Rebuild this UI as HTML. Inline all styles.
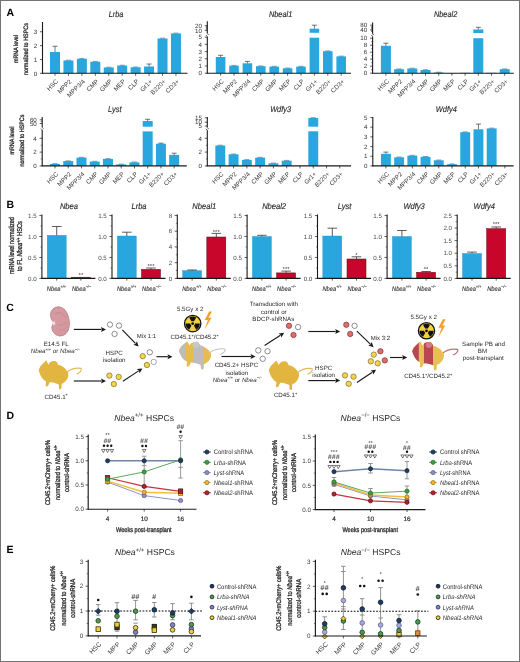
<!DOCTYPE html>
<html><head><meta charset="utf-8"><style>
html,body{margin:0;padding:0;background:#fff;}
body{width:520px;height:662px;overflow:hidden;}
svg{display:block;filter:blur(0.3px);}
text{font-family:"Liberation Sans", sans-serif;text-rendering:geometricPrecision;}
</style></head><body>
<svg width="520" height="662" viewBox="0 0 520 662">
<rect x="0" y="0" width="520" height="662" fill="#fff"/>
<g fill="#2a2a2a">
<text x="6.50" y="15.80" font-size="10.5" font-weight="bold" fill="#000">A</text>
<rect x="50.00" y="52.00" width="10.00" height="21.30" fill="#29a6de"/>
<line x1="55.00" y1="46.25" x2="55.00" y2="52.00" stroke="#3a4a55" stroke-width="0.75" />
<line x1="52.50" y1="46.25" x2="57.50" y2="46.25" stroke="#3a4a55" stroke-width="0.75" />
<rect x="63.44" y="60.50" width="10.00" height="12.80" fill="#29a6de"/>
<line x1="65.94" y1="60.20" x2="70.94" y2="60.20" stroke="#2a6a8a" stroke-width="0.6" />
<rect x="76.88" y="58.75" width="10.00" height="14.55" fill="#29a6de"/>
<line x1="79.38" y1="58.45" x2="84.38" y2="58.45" stroke="#2a6a8a" stroke-width="0.6" />
<rect x="90.32" y="61.75" width="10.00" height="11.55" fill="#29a6de"/>
<line x1="92.82" y1="61.45" x2="97.82" y2="61.45" stroke="#2a6a8a" stroke-width="0.6" />
<rect x="103.76" y="67.50" width="10.00" height="5.80" fill="#29a6de"/>
<line x1="106.26" y1="67.20" x2="111.26" y2="67.20" stroke="#2a6a8a" stroke-width="0.6" />
<rect x="117.20" y="65.50" width="10.00" height="7.80" fill="#29a6de"/>
<line x1="119.70" y1="65.20" x2="124.70" y2="65.20" stroke="#2a6a8a" stroke-width="0.6" />
<rect x="130.64" y="67.25" width="10.00" height="6.05" fill="#29a6de"/>
<line x1="133.14" y1="66.95" x2="138.14" y2="66.95" stroke="#2a6a8a" stroke-width="0.6" />
<rect x="144.08" y="66.50" width="10.00" height="6.80" fill="#29a6de"/>
<line x1="149.08" y1="64.00" x2="149.08" y2="66.50" stroke="#3a4a55" stroke-width="0.75" />
<line x1="146.58" y1="64.00" x2="151.58" y2="64.00" stroke="#3a4a55" stroke-width="0.75" />
<rect x="157.52" y="38.50" width="10.00" height="34.80" fill="#29a6de"/>
<line x1="160.02" y1="38.20" x2="165.02" y2="38.20" stroke="#2a6a8a" stroke-width="0.6" />
<rect x="170.96" y="33.40" width="10.00" height="39.90" fill="#29a6de"/>
<line x1="173.46" y1="33.10" x2="178.46" y2="33.10" stroke="#2a6a8a" stroke-width="0.6" />
<line x1="42.50" y1="22.00" x2="42.50" y2="73.70" stroke="#1a1a1a" stroke-width="1.1" />
<line x1="41.95" y1="73.30" x2="187.50" y2="73.30" stroke="#1a1a1a" stroke-width="1.1" />
<line x1="40.00" y1="73.30" x2="42.50" y2="73.30" stroke="#1a1a1a" stroke-width="0.7" />
<text x="37.10" y="75.50" font-size="6.2" text-anchor="end" fill="#333">0</text>
<line x1="40.00" y1="59.45" x2="42.50" y2="59.45" stroke="#1a1a1a" stroke-width="0.7" />
<text x="37.10" y="61.65" font-size="6.2" text-anchor="end" fill="#333">1</text>
<line x1="40.00" y1="45.60" x2="42.50" y2="45.60" stroke="#1a1a1a" stroke-width="0.7" />
<text x="37.10" y="47.80" font-size="6.2" text-anchor="end" fill="#333">2</text>
<line x1="40.00" y1="31.75" x2="42.50" y2="31.75" stroke="#1a1a1a" stroke-width="0.7" />
<text x="37.10" y="33.95" font-size="6.2" text-anchor="end" fill="#333">3</text>
<line x1="55.00" y1="73.30" x2="55.00" y2="75.80" stroke="#1a1a1a" stroke-width="0.7" />
<text x="58.60" y="81.90" font-size="6.3" text-anchor="end" fill="#383838" transform="rotate(-45 58.60 81.90)">HSC</text>
<line x1="68.44" y1="73.30" x2="68.44" y2="75.80" stroke="#1a1a1a" stroke-width="0.7" />
<text x="72.04" y="81.90" font-size="6.3" text-anchor="end" fill="#383838" transform="rotate(-45 72.04 81.90)">MPP2</text>
<line x1="81.88" y1="73.30" x2="81.88" y2="75.80" stroke="#1a1a1a" stroke-width="0.7" />
<text x="85.48" y="81.90" font-size="6.3" text-anchor="end" fill="#383838" transform="rotate(-45 85.48 81.90)">MPP3/4</text>
<line x1="95.32" y1="73.30" x2="95.32" y2="75.80" stroke="#1a1a1a" stroke-width="0.7" />
<text x="98.92" y="81.90" font-size="6.3" text-anchor="end" fill="#383838" transform="rotate(-45 98.92 81.90)">CMP</text>
<line x1="108.76" y1="73.30" x2="108.76" y2="75.80" stroke="#1a1a1a" stroke-width="0.7" />
<text x="112.36" y="81.90" font-size="6.3" text-anchor="end" fill="#383838" transform="rotate(-45 112.36 81.90)">GMP</text>
<line x1="122.20" y1="73.30" x2="122.20" y2="75.80" stroke="#1a1a1a" stroke-width="0.7" />
<text x="125.80" y="81.90" font-size="6.3" text-anchor="end" fill="#383838" transform="rotate(-45 125.80 81.90)">MEP</text>
<line x1="135.64" y1="73.30" x2="135.64" y2="75.80" stroke="#1a1a1a" stroke-width="0.7" />
<text x="139.24" y="81.90" font-size="6.3" text-anchor="end" fill="#383838" transform="rotate(-45 139.24 81.90)">CLP</text>
<line x1="149.08" y1="73.30" x2="149.08" y2="75.80" stroke="#1a1a1a" stroke-width="0.7" />
<text x="152.68" y="81.90" font-size="6.3" text-anchor="end" fill="#383838" transform="rotate(-45 152.68 81.90)">Gr1+</text>
<line x1="162.52" y1="73.30" x2="162.52" y2="75.80" stroke="#1a1a1a" stroke-width="0.7" />
<text x="166.12" y="81.90" font-size="6.3" text-anchor="end" fill="#383838" transform="rotate(-45 166.12 81.90)">B220+</text>
<line x1="175.96" y1="73.30" x2="175.96" y2="75.80" stroke="#1a1a1a" stroke-width="0.7" />
<text x="179.56" y="81.90" font-size="6.3" text-anchor="end" fill="#383838" transform="rotate(-45 179.56 81.90)">CD3+</text>
<text x="0" y="0" font-size="8.4" transform="translate(116.00 16.60) scale(0.88 1)" text-anchor="middle" font-style="italic" stroke="#2a2a2a" stroke-width="0.15">Lrba</text>
<text x="17.90" y="49.00" font-size="6.4" text-anchor="middle" transform="rotate(-90 17.90 49.00)" textLength="28" lengthAdjust="spacingAndGlyphs" stroke="#2a2a2a" stroke-width="0.32">mRNA level</text>
<text x="28.30" y="49.00" font-size="6.4" text-anchor="middle" transform="rotate(-90 28.30 49.00)" textLength="52" lengthAdjust="spacingAndGlyphs" stroke="#2a2a2a" stroke-width="0.32">normalized to HSPCs</text>
<rect x="215.80" y="57.00" width="9.60" height="16.20" fill="#29a6de"/>
<line x1="220.60" y1="55.30" x2="220.60" y2="57.00" stroke="#3a4a55" stroke-width="0.75" />
<line x1="218.10" y1="55.30" x2="223.10" y2="55.30" stroke="#3a4a55" stroke-width="0.75" />
<rect x="229.20" y="65.70" width="9.60" height="7.50" fill="#29a6de"/>
<line x1="231.50" y1="65.40" x2="236.50" y2="65.40" stroke="#2a6a8a" stroke-width="0.6" />
<rect x="242.60" y="63.30" width="9.60" height="9.90" fill="#29a6de"/>
<line x1="247.40" y1="61.40" x2="247.40" y2="63.30" stroke="#3a4a55" stroke-width="0.75" />
<line x1="244.90" y1="61.40" x2="249.90" y2="61.40" stroke="#3a4a55" stroke-width="0.75" />
<rect x="256.00" y="66.20" width="9.60" height="7.00" fill="#29a6de"/>
<line x1="258.30" y1="65.90" x2="263.30" y2="65.90" stroke="#2a6a8a" stroke-width="0.6" />
<rect x="269.40" y="66.60" width="9.60" height="6.60" fill="#29a6de"/>
<line x1="271.70" y1="66.30" x2="276.70" y2="66.30" stroke="#2a6a8a" stroke-width="0.6" />
<rect x="282.80" y="68.30" width="9.60" height="4.90" fill="#29a6de"/>
<line x1="285.10" y1="68.00" x2="290.10" y2="68.00" stroke="#2a6a8a" stroke-width="0.6" />
<rect x="296.20" y="66.60" width="9.60" height="6.60" fill="#29a6de"/>
<line x1="298.50" y1="66.30" x2="303.50" y2="66.30" stroke="#2a6a8a" stroke-width="0.6" />
<rect x="309.60" y="37.70" width="9.60" height="35.50" fill="#29a6de"/>
<rect x="309.60" y="28.70" width="9.60" height="4.10" fill="#29a6de"/>
<line x1="314.40" y1="25.20" x2="314.40" y2="28.70" stroke="#3a4a55" stroke-width="0.75" />
<line x1="311.90" y1="25.20" x2="316.90" y2="25.20" stroke="#3a4a55" stroke-width="0.75" />
<rect x="323.00" y="51.20" width="9.60" height="22.00" fill="#29a6de"/>
<line x1="325.30" y1="50.90" x2="330.30" y2="50.90" stroke="#2a6a8a" stroke-width="0.6" />
<rect x="336.40" y="56.40" width="9.60" height="16.80" fill="#29a6de"/>
<line x1="338.70" y1="56.10" x2="343.70" y2="56.10" stroke="#2a6a8a" stroke-width="0.6" />
<line x1="207.30" y1="21.20" x2="207.30" y2="33.60" stroke="#1a1a1a" stroke-width="1.1" />
<line x1="207.30" y1="33.60" x2="208.50" y2="34.90" stroke="#1a1a1a" stroke-width="0.8" />
<line x1="206.10" y1="35.10" x2="207.30" y2="36.40" stroke="#1a1a1a" stroke-width="0.8" />
<line x1="207.30" y1="36.40" x2="207.30" y2="73.60" stroke="#1a1a1a" stroke-width="1.1" />
<line x1="206.75" y1="73.20" x2="351.00" y2="73.20" stroke="#1a1a1a" stroke-width="1.1" />
<line x1="204.80" y1="73.20" x2="207.30" y2="73.20" stroke="#1a1a1a" stroke-width="0.7" />
<text x="201.90" y="75.40" font-size="6.2" text-anchor="end" fill="#333">0</text>
<line x1="204.80" y1="66.00" x2="207.30" y2="66.00" stroke="#1a1a1a" stroke-width="0.7" />
<text x="201.90" y="68.20" font-size="6.2" text-anchor="end" fill="#333">1</text>
<line x1="204.80" y1="58.80" x2="207.30" y2="58.80" stroke="#1a1a1a" stroke-width="0.7" />
<text x="201.90" y="61.00" font-size="6.2" text-anchor="end" fill="#333">2</text>
<line x1="204.80" y1="51.60" x2="207.30" y2="51.60" stroke="#1a1a1a" stroke-width="0.7" />
<text x="201.90" y="53.80" font-size="6.2" text-anchor="end" fill="#333">3</text>
<line x1="204.80" y1="44.40" x2="207.30" y2="44.40" stroke="#1a1a1a" stroke-width="0.7" />
<text x="201.90" y="46.60" font-size="6.2" text-anchor="end" fill="#333">4</text>
<line x1="204.80" y1="37.20" x2="207.30" y2="37.20" stroke="#1a1a1a" stroke-width="0.7" />
<text x="201.90" y="39.40" font-size="6.2" text-anchor="end" fill="#333">5</text>
<line x1="204.80" y1="30.40" x2="207.30" y2="30.40" stroke="#1a1a1a" stroke-width="0.7" />
<text x="201.90" y="32.60" font-size="6.2" text-anchor="end" fill="#333">10</text>
<line x1="204.80" y1="25.60" x2="207.30" y2="25.60" stroke="#1a1a1a" stroke-width="0.7" />
<text x="201.90" y="27.80" font-size="6.2" text-anchor="end" fill="#333">20</text>
<line x1="205.80" y1="29.40" x2="207.30" y2="29.40" stroke="#1a1a1a" stroke-width="0.5" />
<line x1="205.80" y1="28.40" x2="207.30" y2="28.40" stroke="#1a1a1a" stroke-width="0.5" />
<line x1="205.80" y1="27.40" x2="207.30" y2="27.40" stroke="#1a1a1a" stroke-width="0.5" />
<line x1="205.80" y1="26.50" x2="207.30" y2="26.50" stroke="#1a1a1a" stroke-width="0.5" />
<line x1="220.60" y1="73.20" x2="220.60" y2="75.70" stroke="#1a1a1a" stroke-width="0.7" />
<text x="224.20" y="81.80" font-size="6.3" text-anchor="end" fill="#383838" transform="rotate(-45 224.20 81.80)">HSC</text>
<line x1="234.00" y1="73.20" x2="234.00" y2="75.70" stroke="#1a1a1a" stroke-width="0.7" />
<text x="237.60" y="81.80" font-size="6.3" text-anchor="end" fill="#383838" transform="rotate(-45 237.60 81.80)">MPP2</text>
<line x1="247.40" y1="73.20" x2="247.40" y2="75.70" stroke="#1a1a1a" stroke-width="0.7" />
<text x="251.00" y="81.80" font-size="6.3" text-anchor="end" fill="#383838" transform="rotate(-45 251.00 81.80)">MPP3/4</text>
<line x1="260.80" y1="73.20" x2="260.80" y2="75.70" stroke="#1a1a1a" stroke-width="0.7" />
<text x="264.40" y="81.80" font-size="6.3" text-anchor="end" fill="#383838" transform="rotate(-45 264.40 81.80)">CMP</text>
<line x1="274.20" y1="73.20" x2="274.20" y2="75.70" stroke="#1a1a1a" stroke-width="0.7" />
<text x="277.80" y="81.80" font-size="6.3" text-anchor="end" fill="#383838" transform="rotate(-45 277.80 81.80)">GMP</text>
<line x1="287.60" y1="73.20" x2="287.60" y2="75.70" stroke="#1a1a1a" stroke-width="0.7" />
<text x="291.20" y="81.80" font-size="6.3" text-anchor="end" fill="#383838" transform="rotate(-45 291.20 81.80)">MEP</text>
<line x1="301.00" y1="73.20" x2="301.00" y2="75.70" stroke="#1a1a1a" stroke-width="0.7" />
<text x="304.60" y="81.80" font-size="6.3" text-anchor="end" fill="#383838" transform="rotate(-45 304.60 81.80)">CLP</text>
<line x1="314.40" y1="73.20" x2="314.40" y2="75.70" stroke="#1a1a1a" stroke-width="0.7" />
<text x="318.00" y="81.80" font-size="6.3" text-anchor="end" fill="#383838" transform="rotate(-45 318.00 81.80)">Gr1+</text>
<line x1="327.80" y1="73.20" x2="327.80" y2="75.70" stroke="#1a1a1a" stroke-width="0.7" />
<text x="331.40" y="81.80" font-size="6.3" text-anchor="end" fill="#383838" transform="rotate(-45 331.40 81.80)">B220+</text>
<line x1="341.20" y1="73.20" x2="341.20" y2="75.70" stroke="#1a1a1a" stroke-width="0.7" />
<text x="344.80" y="81.80" font-size="6.3" text-anchor="end" fill="#383838" transform="rotate(-45 344.80 81.80)">CD3+</text>
<text x="0" y="0" font-size="8.4" transform="translate(280.60 16.90) scale(0.88 1)" text-anchor="middle" font-style="italic" stroke="#2a2a2a" stroke-width="0.15">Nbeal1</text>
<rect x="380.90" y="45.80" width="10.00" height="27.40" fill="#29a6de"/>
<line x1="385.90" y1="43.20" x2="385.90" y2="45.80" stroke="#3a4a55" stroke-width="0.75" />
<line x1="383.40" y1="43.20" x2="388.40" y2="43.20" stroke="#3a4a55" stroke-width="0.75" />
<rect x="394.10" y="69.20" width="10.00" height="4.00" fill="#29a6de"/>
<line x1="396.60" y1="68.90" x2="401.60" y2="68.90" stroke="#2a6a8a" stroke-width="0.6" />
<rect x="407.30" y="68.50" width="10.00" height="4.70" fill="#29a6de"/>
<line x1="409.80" y1="68.20" x2="414.80" y2="68.20" stroke="#2a6a8a" stroke-width="0.6" />
<rect x="420.50" y="70.00" width="10.00" height="3.20" fill="#29a6de"/>
<line x1="423.00" y1="69.70" x2="428.00" y2="69.70" stroke="#2a6a8a" stroke-width="0.6" />
<rect x="433.70" y="72.50" width="10.00" height="0.70" fill="#29a6de"/>
<line x1="436.20" y1="72.20" x2="441.20" y2="72.20" stroke="#2a6a8a" stroke-width="0.6" />
<rect x="446.90" y="73.00" width="10.00" height="0.20" fill="#29a6de"/>
<rect x="460.10" y="72.80" width="10.00" height="0.40" fill="#29a6de"/>
<rect x="473.30" y="38.20" width="10.00" height="35.00" fill="#29a6de"/>
<rect x="473.30" y="29.50" width="10.00" height="3.50" fill="#29a6de"/>
<line x1="478.30" y1="27.30" x2="478.30" y2="29.50" stroke="#3a4a55" stroke-width="0.75" />
<line x1="475.80" y1="27.30" x2="480.80" y2="27.30" stroke="#3a4a55" stroke-width="0.75" />
<rect x="486.50" y="72.80" width="10.00" height="0.40" fill="#29a6de"/>
<rect x="499.70" y="69.20" width="10.00" height="4.00" fill="#29a6de"/>
<line x1="502.20" y1="68.90" x2="507.20" y2="68.90" stroke="#2a6a8a" stroke-width="0.6" />
<line x1="372.60" y1="22.50" x2="372.60" y2="33.80" stroke="#1a1a1a" stroke-width="1.1" />
<line x1="372.60" y1="33.80" x2="373.80" y2="35.10" stroke="#1a1a1a" stroke-width="0.8" />
<line x1="371.40" y1="35.10" x2="372.60" y2="36.40" stroke="#1a1a1a" stroke-width="0.8" />
<line x1="372.60" y1="36.40" x2="372.60" y2="73.60" stroke="#1a1a1a" stroke-width="1.1" />
<line x1="372.05" y1="73.20" x2="513.80" y2="73.20" stroke="#1a1a1a" stroke-width="1.1" />
<line x1="370.10" y1="73.20" x2="372.60" y2="73.20" stroke="#1a1a1a" stroke-width="0.7" />
<text x="367.20" y="75.40" font-size="6.2" text-anchor="end" fill="#333">0</text>
<line x1="370.10" y1="66.20" x2="372.60" y2="66.20" stroke="#1a1a1a" stroke-width="0.7" />
<text x="367.20" y="68.40" font-size="6.2" text-anchor="end" fill="#333">2</text>
<line x1="370.10" y1="59.20" x2="372.60" y2="59.20" stroke="#1a1a1a" stroke-width="0.7" />
<text x="367.20" y="61.40" font-size="6.2" text-anchor="end" fill="#333">4</text>
<line x1="370.10" y1="52.20" x2="372.60" y2="52.20" stroke="#1a1a1a" stroke-width="0.7" />
<text x="367.20" y="54.40" font-size="6.2" text-anchor="end" fill="#333">6</text>
<line x1="370.10" y1="45.20" x2="372.60" y2="45.20" stroke="#1a1a1a" stroke-width="0.7" />
<text x="367.20" y="47.40" font-size="6.2" text-anchor="end" fill="#333">8</text>
<line x1="370.10" y1="38.20" x2="372.60" y2="38.20" stroke="#1a1a1a" stroke-width="0.7" />
<text x="367.20" y="40.40" font-size="6.2" text-anchor="end" fill="#333">10</text>
<line x1="370.10" y1="29.90" x2="372.60" y2="29.90" stroke="#1a1a1a" stroke-width="0.7" />
<text x="367.20" y="32.10" font-size="6.2" text-anchor="end" fill="#333">40</text>
<line x1="370.10" y1="25.20" x2="372.60" y2="25.20" stroke="#1a1a1a" stroke-width="0.7" />
<text x="367.20" y="27.40" font-size="6.2" text-anchor="end" fill="#333">80</text>
<line x1="371.10" y1="69.70" x2="372.60" y2="69.70" stroke="#1a1a1a" stroke-width="0.5" />
<line x1="371.10" y1="62.70" x2="372.60" y2="62.70" stroke="#1a1a1a" stroke-width="0.5" />
<line x1="371.10" y1="55.70" x2="372.60" y2="55.70" stroke="#1a1a1a" stroke-width="0.5" />
<line x1="371.10" y1="48.70" x2="372.60" y2="48.70" stroke="#1a1a1a" stroke-width="0.5" />
<line x1="371.10" y1="41.70" x2="372.60" y2="41.70" stroke="#1a1a1a" stroke-width="0.5" />
<line x1="371.10" y1="31.50" x2="372.60" y2="31.50" stroke="#1a1a1a" stroke-width="0.5" />
<line x1="371.10" y1="30.70" x2="372.60" y2="30.70" stroke="#1a1a1a" stroke-width="0.5" />
<line x1="371.10" y1="29.00" x2="372.60" y2="29.00" stroke="#1a1a1a" stroke-width="0.5" />
<line x1="371.10" y1="28.20" x2="372.60" y2="28.20" stroke="#1a1a1a" stroke-width="0.5" />
<line x1="371.10" y1="27.40" x2="372.60" y2="27.40" stroke="#1a1a1a" stroke-width="0.5" />
<line x1="371.10" y1="26.60" x2="372.60" y2="26.60" stroke="#1a1a1a" stroke-width="0.5" />
<line x1="385.90" y1="73.20" x2="385.90" y2="75.70" stroke="#1a1a1a" stroke-width="0.7" />
<text x="389.50" y="81.80" font-size="6.3" text-anchor="end" fill="#383838" transform="rotate(-45 389.50 81.80)">HSC</text>
<line x1="399.10" y1="73.20" x2="399.10" y2="75.70" stroke="#1a1a1a" stroke-width="0.7" />
<text x="402.70" y="81.80" font-size="6.3" text-anchor="end" fill="#383838" transform="rotate(-45 402.70 81.80)">MPP2</text>
<line x1="412.30" y1="73.20" x2="412.30" y2="75.70" stroke="#1a1a1a" stroke-width="0.7" />
<text x="415.90" y="81.80" font-size="6.3" text-anchor="end" fill="#383838" transform="rotate(-45 415.90 81.80)">MPP3/4</text>
<line x1="425.50" y1="73.20" x2="425.50" y2="75.70" stroke="#1a1a1a" stroke-width="0.7" />
<text x="429.10" y="81.80" font-size="6.3" text-anchor="end" fill="#383838" transform="rotate(-45 429.10 81.80)">CMP</text>
<line x1="438.70" y1="73.20" x2="438.70" y2="75.70" stroke="#1a1a1a" stroke-width="0.7" />
<text x="442.30" y="81.80" font-size="6.3" text-anchor="end" fill="#383838" transform="rotate(-45 442.30 81.80)">GMP</text>
<line x1="451.90" y1="73.20" x2="451.90" y2="75.70" stroke="#1a1a1a" stroke-width="0.7" />
<text x="455.50" y="81.80" font-size="6.3" text-anchor="end" fill="#383838" transform="rotate(-45 455.50 81.80)">MEP</text>
<line x1="465.10" y1="73.20" x2="465.10" y2="75.70" stroke="#1a1a1a" stroke-width="0.7" />
<text x="468.70" y="81.80" font-size="6.3" text-anchor="end" fill="#383838" transform="rotate(-45 468.70 81.80)">CLP</text>
<line x1="478.30" y1="73.20" x2="478.30" y2="75.70" stroke="#1a1a1a" stroke-width="0.7" />
<text x="481.90" y="81.80" font-size="6.3" text-anchor="end" fill="#383838" transform="rotate(-45 481.90 81.80)">Gr1+</text>
<line x1="491.50" y1="73.20" x2="491.50" y2="75.70" stroke="#1a1a1a" stroke-width="0.7" />
<text x="495.10" y="81.80" font-size="6.3" text-anchor="end" fill="#383838" transform="rotate(-45 495.10 81.80)">B220+</text>
<line x1="504.70" y1="73.20" x2="504.70" y2="75.70" stroke="#1a1a1a" stroke-width="0.7" />
<text x="508.30" y="81.80" font-size="6.3" text-anchor="end" fill="#383838" transform="rotate(-45 508.30 81.80)">CD3+</text>
<text x="0" y="0" font-size="8.4" transform="translate(445.60 16.90) scale(0.88 1)" text-anchor="middle" font-style="italic" stroke="#2a2a2a" stroke-width="0.15">Nbeal2</text>
<rect x="50.00" y="163.90" width="10.00" height="2.00" fill="#29a6de"/>
<line x1="52.50" y1="163.60" x2="57.50" y2="163.60" stroke="#2a6a8a" stroke-width="0.6" />
<rect x="63.24" y="161.10" width="10.00" height="4.80" fill="#29a6de"/>
<line x1="65.74" y1="160.80" x2="70.74" y2="160.80" stroke="#2a6a8a" stroke-width="0.6" />
<rect x="76.48" y="157.60" width="10.00" height="8.30" fill="#29a6de"/>
<line x1="78.98" y1="157.30" x2="83.98" y2="157.30" stroke="#2a6a8a" stroke-width="0.6" />
<rect x="89.72" y="161.60" width="10.00" height="4.30" fill="#29a6de"/>
<line x1="92.22" y1="161.30" x2="97.22" y2="161.30" stroke="#2a6a8a" stroke-width="0.6" />
<rect x="102.96" y="158.90" width="10.00" height="7.00" fill="#29a6de"/>
<line x1="105.46" y1="158.60" x2="110.46" y2="158.60" stroke="#2a6a8a" stroke-width="0.6" />
<rect x="116.20" y="164.40" width="10.00" height="1.50" fill="#29a6de"/>
<line x1="118.70" y1="164.10" x2="123.70" y2="164.10" stroke="#2a6a8a" stroke-width="0.6" />
<rect x="129.44" y="162.30" width="10.00" height="3.60" fill="#29a6de"/>
<line x1="131.94" y1="162.00" x2="136.94" y2="162.00" stroke="#2a6a8a" stroke-width="0.6" />
<rect x="142.68" y="131.40" width="10.00" height="34.50" fill="#29a6de"/>
<rect x="142.68" y="121.00" width="10.00" height="5.70" fill="#29a6de"/>
<line x1="147.68" y1="119.30" x2="147.68" y2="121.00" stroke="#3a4a55" stroke-width="0.75" />
<line x1="145.18" y1="119.30" x2="150.18" y2="119.30" stroke="#3a4a55" stroke-width="0.75" />
<rect x="155.92" y="143.70" width="10.00" height="22.20" fill="#29a6de"/>
<line x1="160.92" y1="143.20" x2="160.92" y2="143.70" stroke="#3a4a55" stroke-width="0.75" />
<line x1="158.42" y1="143.20" x2="163.42" y2="143.20" stroke="#3a4a55" stroke-width="0.75" />
<rect x="169.16" y="154.90" width="10.00" height="11.00" fill="#29a6de"/>
<line x1="174.16" y1="153.20" x2="174.16" y2="154.90" stroke="#3a4a55" stroke-width="0.75" />
<line x1="171.66" y1="153.20" x2="176.66" y2="153.20" stroke="#3a4a55" stroke-width="0.75" />
<line x1="42.20" y1="117.00" x2="42.20" y2="127.30" stroke="#1a1a1a" stroke-width="1.1" />
<line x1="42.20" y1="127.30" x2="43.40" y2="128.60" stroke="#1a1a1a" stroke-width="0.8" />
<line x1="41.00" y1="128.60" x2="42.20" y2="129.90" stroke="#1a1a1a" stroke-width="0.8" />
<line x1="42.20" y1="129.90" x2="42.20" y2="166.30" stroke="#1a1a1a" stroke-width="1.1" />
<line x1="41.65" y1="165.90" x2="186.80" y2="165.90" stroke="#1a1a1a" stroke-width="1.1" />
<line x1="39.70" y1="165.90" x2="42.20" y2="165.90" stroke="#1a1a1a" stroke-width="0.7" />
<text x="36.80" y="168.10" font-size="6.2" text-anchor="end" fill="#333">0</text>
<line x1="39.70" y1="152.10" x2="42.20" y2="152.10" stroke="#1a1a1a" stroke-width="0.7" />
<text x="36.80" y="154.30" font-size="6.2" text-anchor="end" fill="#333">2</text>
<line x1="39.70" y1="138.30" x2="42.20" y2="138.30" stroke="#1a1a1a" stroke-width="0.7" />
<text x="36.80" y="140.50" font-size="6.2" text-anchor="end" fill="#333">4</text>
<line x1="39.70" y1="123.50" x2="42.20" y2="123.50" stroke="#1a1a1a" stroke-width="0.7" />
<text x="36.80" y="125.70" font-size="6.2" text-anchor="end" fill="#333">50</text>
<line x1="39.70" y1="119.80" x2="42.20" y2="119.80" stroke="#1a1a1a" stroke-width="0.7" />
<text x="36.80" y="122.00" font-size="6.2" text-anchor="end" fill="#333">60</text>
<line x1="40.70" y1="159.00" x2="42.20" y2="159.00" stroke="#1a1a1a" stroke-width="0.5" />
<line x1="40.70" y1="145.20" x2="42.20" y2="145.20" stroke="#1a1a1a" stroke-width="0.5" />
<line x1="40.70" y1="121.50" x2="42.20" y2="121.50" stroke="#1a1a1a" stroke-width="0.5" />
<line x1="55.00" y1="165.90" x2="55.00" y2="168.40" stroke="#1a1a1a" stroke-width="0.7" />
<text x="58.60" y="174.50" font-size="6.3" text-anchor="end" fill="#383838" transform="rotate(-45 58.60 174.50)">HSC</text>
<line x1="68.24" y1="165.90" x2="68.24" y2="168.40" stroke="#1a1a1a" stroke-width="0.7" />
<text x="71.84" y="174.50" font-size="6.3" text-anchor="end" fill="#383838" transform="rotate(-45 71.84 174.50)">MPP2</text>
<line x1="81.48" y1="165.90" x2="81.48" y2="168.40" stroke="#1a1a1a" stroke-width="0.7" />
<text x="85.08" y="174.50" font-size="6.3" text-anchor="end" fill="#383838" transform="rotate(-45 85.08 174.50)">MPP3/4</text>
<line x1="94.72" y1="165.90" x2="94.72" y2="168.40" stroke="#1a1a1a" stroke-width="0.7" />
<text x="98.32" y="174.50" font-size="6.3" text-anchor="end" fill="#383838" transform="rotate(-45 98.32 174.50)">CMP</text>
<line x1="107.96" y1="165.90" x2="107.96" y2="168.40" stroke="#1a1a1a" stroke-width="0.7" />
<text x="111.56" y="174.50" font-size="6.3" text-anchor="end" fill="#383838" transform="rotate(-45 111.56 174.50)">GMP</text>
<line x1="121.20" y1="165.90" x2="121.20" y2="168.40" stroke="#1a1a1a" stroke-width="0.7" />
<text x="124.80" y="174.50" font-size="6.3" text-anchor="end" fill="#383838" transform="rotate(-45 124.80 174.50)">MEP</text>
<line x1="134.44" y1="165.90" x2="134.44" y2="168.40" stroke="#1a1a1a" stroke-width="0.7" />
<text x="138.04" y="174.50" font-size="6.3" text-anchor="end" fill="#383838" transform="rotate(-45 138.04 174.50)">CLP</text>
<line x1="147.68" y1="165.90" x2="147.68" y2="168.40" stroke="#1a1a1a" stroke-width="0.7" />
<text x="151.28" y="174.50" font-size="6.3" text-anchor="end" fill="#383838" transform="rotate(-45 151.28 174.50)">Gr1+</text>
<line x1="160.92" y1="165.90" x2="160.92" y2="168.40" stroke="#1a1a1a" stroke-width="0.7" />
<text x="164.52" y="174.50" font-size="6.3" text-anchor="end" fill="#383838" transform="rotate(-45 164.52 174.50)">B220+</text>
<line x1="174.16" y1="165.90" x2="174.16" y2="168.40" stroke="#1a1a1a" stroke-width="0.7" />
<text x="177.76" y="174.50" font-size="6.3" text-anchor="end" fill="#383838" transform="rotate(-45 177.76 174.50)">CD3+</text>
<text x="0" y="0" font-size="8.4" transform="translate(114.80 112.00) scale(0.88 1)" text-anchor="middle" font-style="italic" stroke="#2a2a2a" stroke-width="0.15">Lyst</text>
<text x="14.30" y="140.50" font-size="6.4" text-anchor="middle" transform="rotate(-90 14.30 140.50)" textLength="28" lengthAdjust="spacingAndGlyphs" stroke="#2a2a2a" stroke-width="0.32">mRNA level</text>
<text x="24.30" y="140.50" font-size="6.4" text-anchor="middle" transform="rotate(-90 24.30 140.50)" textLength="52" lengthAdjust="spacingAndGlyphs" stroke="#2a2a2a" stroke-width="0.32">normalized to HSPCs</text>
<rect x="215.35" y="145.50" width="9.90" height="20.40" fill="#29a6de"/>
<line x1="217.80" y1="145.20" x2="222.80" y2="145.20" stroke="#2a6a8a" stroke-width="0.6" />
<rect x="228.63" y="154.30" width="9.90" height="11.60" fill="#29a6de"/>
<line x1="231.08" y1="154.00" x2="236.08" y2="154.00" stroke="#2a6a8a" stroke-width="0.6" />
<rect x="241.91" y="159.90" width="9.90" height="6.00" fill="#29a6de"/>
<line x1="244.36" y1="159.60" x2="249.36" y2="159.60" stroke="#2a6a8a" stroke-width="0.6" />
<rect x="255.19" y="157.60" width="9.90" height="8.30" fill="#29a6de"/>
<line x1="257.64" y1="157.30" x2="262.64" y2="157.30" stroke="#2a6a8a" stroke-width="0.6" />
<rect x="268.47" y="163.30" width="9.90" height="2.60" fill="#29a6de"/>
<line x1="270.92" y1="163.00" x2="275.92" y2="163.00" stroke="#2a6a8a" stroke-width="0.6" />
<rect x="281.75" y="160.70" width="9.90" height="5.20" fill="#29a6de"/>
<line x1="284.20" y1="160.40" x2="289.20" y2="160.40" stroke="#2a6a8a" stroke-width="0.6" />
<rect x="308.31" y="131.30" width="9.90" height="34.60" fill="#29a6de"/>
<rect x="308.31" y="118.00" width="9.90" height="8.70" fill="#29a6de"/>
<line x1="310.76" y1="117.70" x2="315.76" y2="117.70" stroke="#2a6a8a" stroke-width="0.6" />
<line x1="207.30" y1="117.00" x2="207.30" y2="127.60" stroke="#1a1a1a" stroke-width="1.1" />
<line x1="207.30" y1="127.60" x2="208.50" y2="128.90" stroke="#1a1a1a" stroke-width="0.8" />
<line x1="206.10" y1="128.90" x2="207.30" y2="130.20" stroke="#1a1a1a" stroke-width="0.8" />
<line x1="207.30" y1="130.20" x2="207.30" y2="166.30" stroke="#1a1a1a" stroke-width="1.1" />
<line x1="206.75" y1="165.90" x2="351.00" y2="165.90" stroke="#1a1a1a" stroke-width="1.1" />
<line x1="204.80" y1="165.90" x2="207.30" y2="165.90" stroke="#1a1a1a" stroke-width="0.7" />
<text x="201.90" y="168.10" font-size="6.2" text-anchor="end" fill="#333">0</text>
<line x1="204.80" y1="152.10" x2="207.30" y2="152.10" stroke="#1a1a1a" stroke-width="0.7" />
<text x="201.90" y="154.30" font-size="6.2" text-anchor="end" fill="#333">2</text>
<line x1="204.80" y1="138.30" x2="207.30" y2="138.30" stroke="#1a1a1a" stroke-width="0.7" />
<text x="201.90" y="140.50" font-size="6.2" text-anchor="end" fill="#333">4</text>
<line x1="204.80" y1="126.10" x2="207.30" y2="126.10" stroke="#1a1a1a" stroke-width="0.7" />
<text x="201.90" y="128.30" font-size="6.2" text-anchor="end" fill="#333">5</text>
<line x1="204.80" y1="122.20" x2="207.30" y2="122.20" stroke="#1a1a1a" stroke-width="0.7" />
<text x="201.90" y="124.40" font-size="6.2" text-anchor="end" fill="#333">10</text>
<line x1="204.80" y1="117.80" x2="207.30" y2="117.80" stroke="#1a1a1a" stroke-width="0.7" />
<text x="201.90" y="120.00" font-size="6.2" text-anchor="end" fill="#333">15</text>
<line x1="205.80" y1="159.00" x2="207.30" y2="159.00" stroke="#1a1a1a" stroke-width="0.5" />
<line x1="205.80" y1="145.20" x2="207.30" y2="145.20" stroke="#1a1a1a" stroke-width="0.5" />
<line x1="220.30" y1="165.90" x2="220.30" y2="168.40" stroke="#1a1a1a" stroke-width="0.7" />
<text x="223.90" y="174.50" font-size="6.3" text-anchor="end" fill="#383838" transform="rotate(-45 223.90 174.50)">HSC</text>
<line x1="233.58" y1="165.90" x2="233.58" y2="168.40" stroke="#1a1a1a" stroke-width="0.7" />
<text x="237.18" y="174.50" font-size="6.3" text-anchor="end" fill="#383838" transform="rotate(-45 237.18 174.50)">MPP2</text>
<line x1="246.86" y1="165.90" x2="246.86" y2="168.40" stroke="#1a1a1a" stroke-width="0.7" />
<text x="250.46" y="174.50" font-size="6.3" text-anchor="end" fill="#383838" transform="rotate(-45 250.46 174.50)">MPP3/4</text>
<line x1="260.14" y1="165.90" x2="260.14" y2="168.40" stroke="#1a1a1a" stroke-width="0.7" />
<text x="263.74" y="174.50" font-size="6.3" text-anchor="end" fill="#383838" transform="rotate(-45 263.74 174.50)">CMP</text>
<line x1="273.42" y1="165.90" x2="273.42" y2="168.40" stroke="#1a1a1a" stroke-width="0.7" />
<text x="277.02" y="174.50" font-size="6.3" text-anchor="end" fill="#383838" transform="rotate(-45 277.02 174.50)">GMP</text>
<line x1="286.70" y1="165.90" x2="286.70" y2="168.40" stroke="#1a1a1a" stroke-width="0.7" />
<text x="290.30" y="174.50" font-size="6.3" text-anchor="end" fill="#383838" transform="rotate(-45 290.30 174.50)">MEP</text>
<line x1="299.98" y1="165.90" x2="299.98" y2="168.40" stroke="#1a1a1a" stroke-width="0.7" />
<text x="303.58" y="174.50" font-size="6.3" text-anchor="end" fill="#383838" transform="rotate(-45 303.58 174.50)">CLP</text>
<line x1="313.26" y1="165.90" x2="313.26" y2="168.40" stroke="#1a1a1a" stroke-width="0.7" />
<text x="316.86" y="174.50" font-size="6.3" text-anchor="end" fill="#383838" transform="rotate(-45 316.86 174.50)">Gr1+</text>
<line x1="326.54" y1="165.90" x2="326.54" y2="168.40" stroke="#1a1a1a" stroke-width="0.7" />
<text x="330.14" y="174.50" font-size="6.3" text-anchor="end" fill="#383838" transform="rotate(-45 330.14 174.50)">B220+</text>
<line x1="339.82" y1="165.90" x2="339.82" y2="168.40" stroke="#1a1a1a" stroke-width="0.7" />
<text x="343.42" y="174.50" font-size="6.3" text-anchor="end" fill="#383838" transform="rotate(-45 343.42 174.50)">CD3+</text>
<text x="0" y="0" font-size="8.4" transform="translate(280.60 112.00) scale(0.88 1)" text-anchor="middle" font-style="italic" stroke="#2a2a2a" stroke-width="0.15">Wdfy3</text>
<rect x="380.95" y="153.80" width="9.90" height="12.10" fill="#29a6de"/>
<line x1="385.90" y1="152.10" x2="385.90" y2="153.80" stroke="#3a4a55" stroke-width="0.75" />
<line x1="383.40" y1="152.10" x2="388.40" y2="152.10" stroke="#3a4a55" stroke-width="0.75" />
<rect x="394.17" y="157.30" width="9.90" height="8.60" fill="#29a6de"/>
<line x1="396.62" y1="157.00" x2="401.62" y2="157.00" stroke="#2a6a8a" stroke-width="0.6" />
<rect x="407.39" y="155.60" width="9.90" height="10.30" fill="#29a6de"/>
<line x1="409.84" y1="155.30" x2="414.84" y2="155.30" stroke="#2a6a8a" stroke-width="0.6" />
<rect x="420.61" y="156.80" width="9.90" height="9.10" fill="#29a6de"/>
<line x1="423.06" y1="156.50" x2="428.06" y2="156.50" stroke="#2a6a8a" stroke-width="0.6" />
<rect x="433.83" y="160.30" width="9.90" height="5.60" fill="#29a6de"/>
<line x1="436.28" y1="160.00" x2="441.28" y2="160.00" stroke="#2a6a8a" stroke-width="0.6" />
<rect x="447.05" y="164.20" width="9.90" height="1.70" fill="#29a6de"/>
<line x1="449.50" y1="163.90" x2="454.50" y2="163.90" stroke="#2a6a8a" stroke-width="0.6" />
<rect x="460.27" y="132.20" width="9.90" height="33.70" fill="#29a6de"/>
<line x1="462.72" y1="131.90" x2="467.72" y2="131.90" stroke="#2a6a8a" stroke-width="0.6" />
<rect x="473.49" y="129.30" width="9.90" height="36.60" fill="#29a6de"/>
<line x1="478.44" y1="124.10" x2="478.44" y2="129.30" stroke="#3a4a55" stroke-width="0.75" />
<line x1="475.94" y1="124.10" x2="480.94" y2="124.10" stroke="#3a4a55" stroke-width="0.75" />
<rect x="486.71" y="128.40" width="9.90" height="37.50" fill="#29a6de"/>
<line x1="489.16" y1="128.10" x2="494.16" y2="128.10" stroke="#2a6a8a" stroke-width="0.6" />
<line x1="372.80" y1="117.00" x2="372.80" y2="166.30" stroke="#1a1a1a" stroke-width="1.1" />
<line x1="372.25" y1="165.90" x2="513.60" y2="165.90" stroke="#1a1a1a" stroke-width="1.1" />
<line x1="370.30" y1="165.90" x2="372.80" y2="165.90" stroke="#1a1a1a" stroke-width="0.7" />
<text x="367.40" y="168.10" font-size="6.2" text-anchor="end" fill="#333">0</text>
<line x1="370.30" y1="156.22" x2="372.80" y2="156.22" stroke="#1a1a1a" stroke-width="0.7" />
<text x="367.40" y="158.42" font-size="6.2" text-anchor="end" fill="#333">1</text>
<line x1="370.30" y1="146.54" x2="372.80" y2="146.54" stroke="#1a1a1a" stroke-width="0.7" />
<text x="367.40" y="148.74" font-size="6.2" text-anchor="end" fill="#333">2</text>
<line x1="370.30" y1="136.86" x2="372.80" y2="136.86" stroke="#1a1a1a" stroke-width="0.7" />
<text x="367.40" y="139.06" font-size="6.2" text-anchor="end" fill="#333">3</text>
<line x1="370.30" y1="127.18" x2="372.80" y2="127.18" stroke="#1a1a1a" stroke-width="0.7" />
<text x="367.40" y="129.38" font-size="6.2" text-anchor="end" fill="#333">4</text>
<line x1="370.30" y1="117.50" x2="372.80" y2="117.50" stroke="#1a1a1a" stroke-width="0.7" />
<text x="367.40" y="119.70" font-size="6.2" text-anchor="end" fill="#333">5</text>
<line x1="385.90" y1="165.90" x2="385.90" y2="168.40" stroke="#1a1a1a" stroke-width="0.7" />
<text x="389.50" y="174.50" font-size="6.3" text-anchor="end" fill="#383838" transform="rotate(-45 389.50 174.50)">HSC</text>
<line x1="399.12" y1="165.90" x2="399.12" y2="168.40" stroke="#1a1a1a" stroke-width="0.7" />
<text x="402.72" y="174.50" font-size="6.3" text-anchor="end" fill="#383838" transform="rotate(-45 402.72 174.50)">MPP2</text>
<line x1="412.34" y1="165.90" x2="412.34" y2="168.40" stroke="#1a1a1a" stroke-width="0.7" />
<text x="415.94" y="174.50" font-size="6.3" text-anchor="end" fill="#383838" transform="rotate(-45 415.94 174.50)">MPP3/4</text>
<line x1="425.56" y1="165.90" x2="425.56" y2="168.40" stroke="#1a1a1a" stroke-width="0.7" />
<text x="429.16" y="174.50" font-size="6.3" text-anchor="end" fill="#383838" transform="rotate(-45 429.16 174.50)">CMP</text>
<line x1="438.78" y1="165.90" x2="438.78" y2="168.40" stroke="#1a1a1a" stroke-width="0.7" />
<text x="442.38" y="174.50" font-size="6.3" text-anchor="end" fill="#383838" transform="rotate(-45 442.38 174.50)">GMP</text>
<line x1="452.00" y1="165.90" x2="452.00" y2="168.40" stroke="#1a1a1a" stroke-width="0.7" />
<text x="455.60" y="174.50" font-size="6.3" text-anchor="end" fill="#383838" transform="rotate(-45 455.60 174.50)">MEP</text>
<line x1="465.22" y1="165.90" x2="465.22" y2="168.40" stroke="#1a1a1a" stroke-width="0.7" />
<text x="468.82" y="174.50" font-size="6.3" text-anchor="end" fill="#383838" transform="rotate(-45 468.82 174.50)">CLP</text>
<line x1="478.44" y1="165.90" x2="478.44" y2="168.40" stroke="#1a1a1a" stroke-width="0.7" />
<text x="482.04" y="174.50" font-size="6.3" text-anchor="end" fill="#383838" transform="rotate(-45 482.04 174.50)">Gr1+</text>
<line x1="491.66" y1="165.90" x2="491.66" y2="168.40" stroke="#1a1a1a" stroke-width="0.7" />
<text x="495.26" y="174.50" font-size="6.3" text-anchor="end" fill="#383838" transform="rotate(-45 495.26 174.50)">B220+</text>
<line x1="504.88" y1="165.90" x2="504.88" y2="168.40" stroke="#1a1a1a" stroke-width="0.7" />
<text x="508.48" y="174.50" font-size="6.3" text-anchor="end" fill="#383838" transform="rotate(-45 508.48 174.50)">CD3+</text>
<text x="0" y="0" font-size="8.4" transform="translate(446.30 112.30) scale(0.88 1)" text-anchor="middle" font-style="italic" stroke="#2a2a2a" stroke-width="0.15">Wdfy4</text>
<text x="6.50" y="208.20" font-size="10.5" font-weight="bold" fill="#000">B</text>
<rect x="47.20" y="235.30" width="19.00" height="43.10" fill="#29a6de" stroke="#2794c8" stroke-width="0.4"/>
<rect x="71.40" y="277.20" width="19.00" height="1.20" fill="#c8062c" stroke="#6a0010" stroke-width="0.5"/>
<line x1="56.70" y1="226.50" x2="56.70" y2="235.30" stroke="#333" stroke-width="0.8" />
<line x1="51.90" y1="226.50" x2="61.50" y2="226.50" stroke="#333" stroke-width="0.8" />
<text x="80.90" y="277.00" font-size="6.0" text-anchor="middle" fill="#333">**</text>
<line x1="41.90" y1="214.50" x2="41.90" y2="278.80" stroke="#1a1a1a" stroke-width="1.1" />
<line x1="41.35" y1="278.40" x2="95.40" y2="278.40" stroke="#1a1a1a" stroke-width="1.1" />
<line x1="39.30" y1="278.40" x2="41.90" y2="278.40" stroke="#1a1a1a" stroke-width="0.7" />
<text x="36.70" y="280.60" font-size="6.2" text-anchor="end" fill="#4a4a4a">0.0</text>
<line x1="39.30" y1="257.45" x2="41.90" y2="257.45" stroke="#1a1a1a" stroke-width="0.7" />
<text x="36.70" y="259.65" font-size="6.2" text-anchor="end" fill="#4a4a4a">0.5</text>
<line x1="39.30" y1="236.50" x2="41.90" y2="236.50" stroke="#1a1a1a" stroke-width="0.7" />
<text x="36.70" y="238.70" font-size="6.2" text-anchor="end" fill="#4a4a4a">1.0</text>
<line x1="39.30" y1="215.55" x2="41.90" y2="215.55" stroke="#1a1a1a" stroke-width="0.7" />
<text x="36.70" y="217.75" font-size="6.2" text-anchor="end" fill="#4a4a4a">1.5</text>
<line x1="40.40" y1="267.92" x2="41.90" y2="267.92" stroke="#1a1a1a" stroke-width="0.5" />
<line x1="40.40" y1="246.97" x2="41.90" y2="246.97" stroke="#1a1a1a" stroke-width="0.5" />
<line x1="40.40" y1="226.02" x2="41.90" y2="226.02" stroke="#1a1a1a" stroke-width="0.5" />
<line x1="56.70" y1="278.40" x2="56.70" y2="280.60" stroke="#1a1a1a" stroke-width="0.7" />
<line x1="80.90" y1="278.40" x2="80.90" y2="280.60" stroke="#1a1a1a" stroke-width="0.7" />
<text x="0" y="0" font-size="6.7" transform="translate(56.40 290.60) scale(0.86 1)" text-anchor="middle" font-style="italic" fill="#333" stroke="#333" stroke-width="0.12">Nbea<tspan font-size="4.4" dy="-2.9">+/+</tspan></text>
<text x="0" y="0" font-size="6.7" transform="translate(81.50 290.60) scale(0.86 1)" text-anchor="middle" font-style="italic" fill="#333" stroke="#333" stroke-width="0.12">Nbea<tspan font-size="4.4" dy="-2.9">−/−</tspan></text>
<text x="0" y="0" font-size="8.4" transform="translate(68.90 209.30) scale(0.9 1)" text-anchor="middle" font-style="italic" stroke="#2a2a2a" stroke-width="0.15">Nbea</text>
<rect x="117.30" y="236.00" width="19.00" height="42.40" fill="#29a6de" stroke="#2794c8" stroke-width="0.4"/>
<rect x="141.50" y="269.40" width="19.00" height="9.00" fill="#c8062c" stroke="#6a0010" stroke-width="0.5"/>
<line x1="126.80" y1="232.20" x2="126.80" y2="236.00" stroke="#333" stroke-width="0.8" />
<line x1="122.00" y1="232.20" x2="131.60" y2="232.20" stroke="#333" stroke-width="0.8" />
<line x1="151.00" y1="268.00" x2="151.00" y2="269.40" stroke="#333" stroke-width="0.8" />
<line x1="146.20" y1="268.00" x2="155.80" y2="268.00" stroke="#333" stroke-width="0.8" />
<text x="151.00" y="268.40" font-size="6.0" text-anchor="middle" fill="#333">***</text>
<line x1="112.00" y1="214.50" x2="112.00" y2="278.80" stroke="#1a1a1a" stroke-width="1.1" />
<line x1="111.45" y1="278.40" x2="165.50" y2="278.40" stroke="#1a1a1a" stroke-width="1.1" />
<line x1="109.40" y1="278.40" x2="112.00" y2="278.40" stroke="#1a1a1a" stroke-width="0.7" />
<text x="106.80" y="280.60" font-size="6.2" text-anchor="end" fill="#4a4a4a">0.0</text>
<line x1="109.40" y1="257.45" x2="112.00" y2="257.45" stroke="#1a1a1a" stroke-width="0.7" />
<text x="106.80" y="259.65" font-size="6.2" text-anchor="end" fill="#4a4a4a">0.5</text>
<line x1="109.40" y1="236.50" x2="112.00" y2="236.50" stroke="#1a1a1a" stroke-width="0.7" />
<text x="106.80" y="238.70" font-size="6.2" text-anchor="end" fill="#4a4a4a">1.0</text>
<line x1="109.40" y1="215.55" x2="112.00" y2="215.55" stroke="#1a1a1a" stroke-width="0.7" />
<text x="106.80" y="217.75" font-size="6.2" text-anchor="end" fill="#4a4a4a">1.5</text>
<line x1="110.50" y1="267.92" x2="112.00" y2="267.92" stroke="#1a1a1a" stroke-width="0.5" />
<line x1="110.50" y1="246.97" x2="112.00" y2="246.97" stroke="#1a1a1a" stroke-width="0.5" />
<line x1="110.50" y1="226.02" x2="112.00" y2="226.02" stroke="#1a1a1a" stroke-width="0.5" />
<line x1="126.80" y1="278.40" x2="126.80" y2="280.60" stroke="#1a1a1a" stroke-width="0.7" />
<line x1="151.00" y1="278.40" x2="151.00" y2="280.60" stroke="#1a1a1a" stroke-width="0.7" />
<text x="0" y="0" font-size="6.7" transform="translate(126.50 290.60) scale(0.86 1)" text-anchor="middle" font-style="italic" fill="#333" stroke="#333" stroke-width="0.12">Nbea<tspan font-size="4.4" dy="-2.9">+/+</tspan></text>
<text x="0" y="0" font-size="6.7" transform="translate(151.60 290.60) scale(0.86 1)" text-anchor="middle" font-style="italic" fill="#333" stroke="#333" stroke-width="0.12">Nbea<tspan font-size="4.4" dy="-2.9">−/−</tspan></text>
<text x="0" y="0" font-size="8.4" transform="translate(139.00 209.30) scale(0.9 1)" text-anchor="middle" font-style="italic" stroke="#2a2a2a" stroke-width="0.15">Lrba</text>
<rect x="182.60" y="270.60" width="19.00" height="7.80" fill="#29a6de" stroke="#2794c8" stroke-width="0.4"/>
<rect x="206.80" y="237.00" width="19.00" height="41.40" fill="#c8062c" stroke="#6a0010" stroke-width="0.5"/>
<line x1="192.10" y1="270.00" x2="192.10" y2="270.60" stroke="#333" stroke-width="0.8" />
<line x1="187.30" y1="270.00" x2="196.90" y2="270.00" stroke="#333" stroke-width="0.8" />
<line x1="216.30" y1="233.40" x2="216.30" y2="237.00" stroke="#333" stroke-width="0.8" />
<line x1="211.50" y1="233.40" x2="221.10" y2="233.40" stroke="#333" stroke-width="0.8" />
<text x="216.30" y="233.70" font-size="6.0" text-anchor="middle" fill="#333">***</text>
<line x1="177.30" y1="214.50" x2="177.30" y2="278.80" stroke="#1a1a1a" stroke-width="1.1" />
<line x1="176.75" y1="278.40" x2="230.80" y2="278.40" stroke="#1a1a1a" stroke-width="1.1" />
<line x1="174.70" y1="278.40" x2="177.30" y2="278.40" stroke="#1a1a1a" stroke-width="0.7" />
<text x="172.10" y="280.60" font-size="6.2" text-anchor="end" fill="#4a4a4a">0</text>
<line x1="174.70" y1="262.66" x2="177.30" y2="262.66" stroke="#1a1a1a" stroke-width="0.7" />
<text x="172.10" y="264.86" font-size="6.2" text-anchor="end" fill="#4a4a4a">2</text>
<line x1="174.70" y1="246.92" x2="177.30" y2="246.92" stroke="#1a1a1a" stroke-width="0.7" />
<text x="172.10" y="249.12" font-size="6.2" text-anchor="end" fill="#4a4a4a">4</text>
<line x1="174.70" y1="231.18" x2="177.30" y2="231.18" stroke="#1a1a1a" stroke-width="0.7" />
<text x="172.10" y="233.38" font-size="6.2" text-anchor="end" fill="#4a4a4a">6</text>
<line x1="174.70" y1="215.44" x2="177.30" y2="215.44" stroke="#1a1a1a" stroke-width="0.7" />
<text x="172.10" y="217.64" font-size="6.2" text-anchor="end" fill="#4a4a4a">8</text>
<line x1="175.80" y1="270.53" x2="177.30" y2="270.53" stroke="#1a1a1a" stroke-width="0.5" />
<line x1="175.80" y1="254.79" x2="177.30" y2="254.79" stroke="#1a1a1a" stroke-width="0.5" />
<line x1="175.80" y1="239.05" x2="177.30" y2="239.05" stroke="#1a1a1a" stroke-width="0.5" />
<line x1="175.80" y1="223.31" x2="177.30" y2="223.31" stroke="#1a1a1a" stroke-width="0.5" />
<line x1="192.10" y1="278.40" x2="192.10" y2="280.60" stroke="#1a1a1a" stroke-width="0.7" />
<line x1="216.30" y1="278.40" x2="216.30" y2="280.60" stroke="#1a1a1a" stroke-width="0.7" />
<text x="0" y="0" font-size="6.7" transform="translate(191.80 290.60) scale(0.86 1)" text-anchor="middle" font-style="italic" fill="#333" stroke="#333" stroke-width="0.12">Nbea<tspan font-size="4.4" dy="-2.9">+/+</tspan></text>
<text x="0" y="0" font-size="6.7" transform="translate(216.90 290.60) scale(0.86 1)" text-anchor="middle" font-style="italic" fill="#333" stroke="#333" stroke-width="0.12">Nbea<tspan font-size="4.4" dy="-2.9">−/−</tspan></text>
<text x="0" y="0" font-size="8.4" transform="translate(204.30 209.30) scale(0.9 1)" text-anchor="middle" font-style="italic" stroke="#2a2a2a" stroke-width="0.15">Nbeal1</text>
<rect x="252.40" y="236.50" width="19.00" height="41.90" fill="#29a6de" stroke="#2794c8" stroke-width="0.4"/>
<rect x="276.60" y="272.90" width="19.00" height="5.50" fill="#c8062c" stroke="#6a0010" stroke-width="0.5"/>
<line x1="261.90" y1="235.30" x2="261.90" y2="236.50" stroke="#333" stroke-width="0.8" />
<line x1="257.10" y1="235.30" x2="266.70" y2="235.30" stroke="#333" stroke-width="0.8" />
<line x1="286.10" y1="271.10" x2="286.10" y2="272.90" stroke="#333" stroke-width="0.8" />
<line x1="281.30" y1="271.10" x2="290.90" y2="271.10" stroke="#333" stroke-width="0.8" />
<text x="286.10" y="271.20" font-size="6.0" text-anchor="middle" fill="#333">***</text>
<line x1="247.10" y1="214.50" x2="247.10" y2="278.80" stroke="#1a1a1a" stroke-width="1.1" />
<line x1="246.55" y1="278.40" x2="300.60" y2="278.40" stroke="#1a1a1a" stroke-width="1.1" />
<line x1="244.50" y1="278.40" x2="247.10" y2="278.40" stroke="#1a1a1a" stroke-width="0.7" />
<text x="241.90" y="280.60" font-size="6.2" text-anchor="end" fill="#4a4a4a">0.0</text>
<line x1="244.50" y1="257.45" x2="247.10" y2="257.45" stroke="#1a1a1a" stroke-width="0.7" />
<text x="241.90" y="259.65" font-size="6.2" text-anchor="end" fill="#4a4a4a">0.5</text>
<line x1="244.50" y1="236.50" x2="247.10" y2="236.50" stroke="#1a1a1a" stroke-width="0.7" />
<text x="241.90" y="238.70" font-size="6.2" text-anchor="end" fill="#4a4a4a">1.0</text>
<line x1="244.50" y1="215.55" x2="247.10" y2="215.55" stroke="#1a1a1a" stroke-width="0.7" />
<text x="241.90" y="217.75" font-size="6.2" text-anchor="end" fill="#4a4a4a">1.5</text>
<line x1="245.60" y1="267.92" x2="247.10" y2="267.92" stroke="#1a1a1a" stroke-width="0.5" />
<line x1="245.60" y1="246.97" x2="247.10" y2="246.97" stroke="#1a1a1a" stroke-width="0.5" />
<line x1="245.60" y1="226.02" x2="247.10" y2="226.02" stroke="#1a1a1a" stroke-width="0.5" />
<line x1="261.90" y1="278.40" x2="261.90" y2="280.60" stroke="#1a1a1a" stroke-width="0.7" />
<line x1="286.10" y1="278.40" x2="286.10" y2="280.60" stroke="#1a1a1a" stroke-width="0.7" />
<text x="0" y="0" font-size="6.7" transform="translate(261.60 290.60) scale(0.86 1)" text-anchor="middle" font-style="italic" fill="#333" stroke="#333" stroke-width="0.12">Nbea<tspan font-size="4.4" dy="-2.9">+/+</tspan></text>
<text x="0" y="0" font-size="6.7" transform="translate(286.70 290.60) scale(0.86 1)" text-anchor="middle" font-style="italic" fill="#333" stroke="#333" stroke-width="0.12">Nbea<tspan font-size="4.4" dy="-2.9">−/−</tspan></text>
<text x="0" y="0" font-size="8.4" transform="translate(274.10 209.30) scale(0.9 1)" text-anchor="middle" font-style="italic" stroke="#2a2a2a" stroke-width="0.15">Nbeal2</text>
<rect x="322.80" y="236.00" width="19.00" height="42.40" fill="#29a6de" stroke="#2794c8" stroke-width="0.4"/>
<rect x="347.00" y="259.00" width="19.00" height="19.40" fill="#c8062c" stroke="#6a0010" stroke-width="0.5"/>
<line x1="332.30" y1="228.20" x2="332.30" y2="236.00" stroke="#333" stroke-width="0.8" />
<line x1="327.50" y1="228.20" x2="337.10" y2="228.20" stroke="#333" stroke-width="0.8" />
<line x1="356.50" y1="256.80" x2="356.50" y2="259.00" stroke="#333" stroke-width="0.8" />
<line x1="351.70" y1="256.80" x2="361.30" y2="256.80" stroke="#333" stroke-width="0.8" />
<text x="356.50" y="257.00" font-size="6.0" text-anchor="middle" fill="#333">*</text>
<line x1="317.50" y1="214.50" x2="317.50" y2="278.80" stroke="#1a1a1a" stroke-width="1.1" />
<line x1="316.95" y1="278.40" x2="371.00" y2="278.40" stroke="#1a1a1a" stroke-width="1.1" />
<line x1="314.90" y1="278.40" x2="317.50" y2="278.40" stroke="#1a1a1a" stroke-width="0.7" />
<text x="312.30" y="280.60" font-size="6.2" text-anchor="end" fill="#4a4a4a">0.0</text>
<line x1="314.90" y1="257.45" x2="317.50" y2="257.45" stroke="#1a1a1a" stroke-width="0.7" />
<text x="312.30" y="259.65" font-size="6.2" text-anchor="end" fill="#4a4a4a">0.5</text>
<line x1="314.90" y1="236.50" x2="317.50" y2="236.50" stroke="#1a1a1a" stroke-width="0.7" />
<text x="312.30" y="238.70" font-size="6.2" text-anchor="end" fill="#4a4a4a">1.0</text>
<line x1="314.90" y1="215.55" x2="317.50" y2="215.55" stroke="#1a1a1a" stroke-width="0.7" />
<text x="312.30" y="217.75" font-size="6.2" text-anchor="end" fill="#4a4a4a">1.5</text>
<line x1="316.00" y1="267.92" x2="317.50" y2="267.92" stroke="#1a1a1a" stroke-width="0.5" />
<line x1="316.00" y1="246.97" x2="317.50" y2="246.97" stroke="#1a1a1a" stroke-width="0.5" />
<line x1="316.00" y1="226.02" x2="317.50" y2="226.02" stroke="#1a1a1a" stroke-width="0.5" />
<line x1="332.30" y1="278.40" x2="332.30" y2="280.60" stroke="#1a1a1a" stroke-width="0.7" />
<line x1="356.50" y1="278.40" x2="356.50" y2="280.60" stroke="#1a1a1a" stroke-width="0.7" />
<text x="0" y="0" font-size="6.7" transform="translate(332.00 290.60) scale(0.86 1)" text-anchor="middle" font-style="italic" fill="#333" stroke="#333" stroke-width="0.12">Nbea<tspan font-size="4.4" dy="-2.9">+/+</tspan></text>
<text x="0" y="0" font-size="6.7" transform="translate(357.10 290.60) scale(0.86 1)" text-anchor="middle" font-style="italic" fill="#333" stroke="#333" stroke-width="0.12">Nbea<tspan font-size="4.4" dy="-2.9">−/−</tspan></text>
<text x="0" y="0" font-size="8.4" transform="translate(344.50 209.30) scale(0.9 1)" text-anchor="middle" font-style="italic" stroke="#2a2a2a" stroke-width="0.15">Lyst</text>
<rect x="392.40" y="236.50" width="19.00" height="41.90" fill="#29a6de" stroke="#2794c8" stroke-width="0.4"/>
<rect x="416.60" y="272.30" width="19.00" height="6.10" fill="#c8062c" stroke="#6a0010" stroke-width="0.5"/>
<line x1="401.90" y1="230.50" x2="401.90" y2="236.50" stroke="#333" stroke-width="0.8" />
<line x1="397.10" y1="230.50" x2="406.70" y2="230.50" stroke="#333" stroke-width="0.8" />
<line x1="426.10" y1="271.50" x2="426.10" y2="272.30" stroke="#333" stroke-width="0.8" />
<line x1="421.30" y1="271.50" x2="430.90" y2="271.50" stroke="#333" stroke-width="0.8" />
<text x="426.10" y="271.20" font-size="6.0" text-anchor="middle" fill="#333">**</text>
<line x1="387.10" y1="214.50" x2="387.10" y2="278.80" stroke="#1a1a1a" stroke-width="1.1" />
<line x1="386.55" y1="278.40" x2="440.60" y2="278.40" stroke="#1a1a1a" stroke-width="1.1" />
<line x1="384.50" y1="278.40" x2="387.10" y2="278.40" stroke="#1a1a1a" stroke-width="0.7" />
<text x="381.90" y="280.60" font-size="6.2" text-anchor="end" fill="#4a4a4a">0.0</text>
<line x1="384.50" y1="257.45" x2="387.10" y2="257.45" stroke="#1a1a1a" stroke-width="0.7" />
<text x="381.90" y="259.65" font-size="6.2" text-anchor="end" fill="#4a4a4a">0.5</text>
<line x1="384.50" y1="236.50" x2="387.10" y2="236.50" stroke="#1a1a1a" stroke-width="0.7" />
<text x="381.90" y="238.70" font-size="6.2" text-anchor="end" fill="#4a4a4a">1.0</text>
<line x1="384.50" y1="215.55" x2="387.10" y2="215.55" stroke="#1a1a1a" stroke-width="0.7" />
<text x="381.90" y="217.75" font-size="6.2" text-anchor="end" fill="#4a4a4a">1.5</text>
<line x1="385.60" y1="267.92" x2="387.10" y2="267.92" stroke="#1a1a1a" stroke-width="0.5" />
<line x1="385.60" y1="246.97" x2="387.10" y2="246.97" stroke="#1a1a1a" stroke-width="0.5" />
<line x1="385.60" y1="226.02" x2="387.10" y2="226.02" stroke="#1a1a1a" stroke-width="0.5" />
<line x1="401.90" y1="278.40" x2="401.90" y2="280.60" stroke="#1a1a1a" stroke-width="0.7" />
<line x1="426.10" y1="278.40" x2="426.10" y2="280.60" stroke="#1a1a1a" stroke-width="0.7" />
<text x="0" y="0" font-size="6.7" transform="translate(401.60 290.60) scale(0.86 1)" text-anchor="middle" font-style="italic" fill="#333" stroke="#333" stroke-width="0.12">Nbea<tspan font-size="4.4" dy="-2.9">+/+</tspan></text>
<text x="0" y="0" font-size="6.7" transform="translate(426.70 290.60) scale(0.86 1)" text-anchor="middle" font-style="italic" fill="#333" stroke="#333" stroke-width="0.12">Nbea<tspan font-size="4.4" dy="-2.9">−/−</tspan></text>
<text x="0" y="0" font-size="8.4" transform="translate(414.10 209.30) scale(0.9 1)" text-anchor="middle" font-style="italic" stroke="#2a2a2a" stroke-width="0.15">Wdfy3</text>
<rect x="462.50" y="253.50" width="19.00" height="24.90" fill="#29a6de" stroke="#2794c8" stroke-width="0.4"/>
<rect x="486.70" y="228.70" width="19.00" height="49.70" fill="#c8062c" stroke="#6a0010" stroke-width="0.5"/>
<line x1="472.00" y1="252.10" x2="472.00" y2="253.50" stroke="#333" stroke-width="0.8" />
<line x1="467.20" y1="252.10" x2="476.80" y2="252.10" stroke="#333" stroke-width="0.8" />
<line x1="496.20" y1="227.00" x2="496.20" y2="228.70" stroke="#333" stroke-width="0.8" />
<line x1="491.40" y1="227.00" x2="501.00" y2="227.00" stroke="#333" stroke-width="0.8" />
<text x="496.20" y="226.40" font-size="6.0" text-anchor="middle" fill="#333">***</text>
<line x1="457.20" y1="214.50" x2="457.20" y2="278.80" stroke="#1a1a1a" stroke-width="1.1" />
<line x1="456.65" y1="278.40" x2="510.70" y2="278.40" stroke="#1a1a1a" stroke-width="1.1" />
<line x1="454.60" y1="278.40" x2="457.20" y2="278.40" stroke="#1a1a1a" stroke-width="0.7" />
<text x="452.00" y="280.60" font-size="6.2" text-anchor="end" fill="#4a4a4a">0.0</text>
<line x1="454.60" y1="265.80" x2="457.20" y2="265.80" stroke="#1a1a1a" stroke-width="0.7" />
<text x="452.00" y="268.00" font-size="6.2" text-anchor="end" fill="#4a4a4a">0.5</text>
<line x1="454.60" y1="253.20" x2="457.20" y2="253.20" stroke="#1a1a1a" stroke-width="0.7" />
<text x="452.00" y="255.40" font-size="6.2" text-anchor="end" fill="#4a4a4a">1.0</text>
<line x1="454.60" y1="240.60" x2="457.20" y2="240.60" stroke="#1a1a1a" stroke-width="0.7" />
<text x="452.00" y="242.80" font-size="6.2" text-anchor="end" fill="#4a4a4a">1.5</text>
<line x1="454.60" y1="228.00" x2="457.20" y2="228.00" stroke="#1a1a1a" stroke-width="0.7" />
<text x="452.00" y="230.20" font-size="6.2" text-anchor="end" fill="#4a4a4a">2.0</text>
<line x1="454.60" y1="215.40" x2="457.20" y2="215.40" stroke="#1a1a1a" stroke-width="0.7" />
<text x="452.00" y="217.60" font-size="6.2" text-anchor="end" fill="#4a4a4a">2.5</text>
<line x1="455.70" y1="272.10" x2="457.20" y2="272.10" stroke="#1a1a1a" stroke-width="0.5" />
<line x1="455.70" y1="259.50" x2="457.20" y2="259.50" stroke="#1a1a1a" stroke-width="0.5" />
<line x1="455.70" y1="246.90" x2="457.20" y2="246.90" stroke="#1a1a1a" stroke-width="0.5" />
<line x1="455.70" y1="234.30" x2="457.20" y2="234.30" stroke="#1a1a1a" stroke-width="0.5" />
<line x1="455.70" y1="221.70" x2="457.20" y2="221.70" stroke="#1a1a1a" stroke-width="0.5" />
<line x1="472.00" y1="278.40" x2="472.00" y2="280.60" stroke="#1a1a1a" stroke-width="0.7" />
<line x1="496.20" y1="278.40" x2="496.20" y2="280.60" stroke="#1a1a1a" stroke-width="0.7" />
<text x="0" y="0" font-size="6.7" transform="translate(471.70 290.60) scale(0.86 1)" text-anchor="middle" font-style="italic" fill="#333" stroke="#333" stroke-width="0.12">Nbea<tspan font-size="4.4" dy="-2.9">+/+</tspan></text>
<text x="0" y="0" font-size="6.7" transform="translate(496.80 290.60) scale(0.86 1)" text-anchor="middle" font-style="italic" fill="#333" stroke="#333" stroke-width="0.12">Nbea<tspan font-size="4.4" dy="-2.9">−/−</tspan></text>
<text x="0" y="0" font-size="8.4" transform="translate(484.20 209.30) scale(0.9 1)" text-anchor="middle" font-style="italic" stroke="#2a2a2a" stroke-width="0.15">Wdfy4</text>
<text x="13.60" y="245.60" font-size="7.2" text-anchor="middle" transform="rotate(-90 13.60 245.60)" textLength="57" lengthAdjust="spacingAndGlyphs" stroke="#2a2a2a" stroke-width="0.32">mRNA level normalized</text>
<text x="22.40" y="246.00" font-size="7.2" text-anchor="middle" transform="rotate(-90 22.40 246.00)" textLength="50" lengthAdjust="spacingAndGlyphs" stroke="#2a2a2a" stroke-width="0.32">to FL <tspan font-style="italic">Nbea</tspan><tspan font-size="4.6" dy="-2.8">+/+</tspan><tspan dy="2.8"> HSCs</tspan></text>
<text x="6.30" y="310.60" font-size="10.5" font-weight="bold" fill="#000">C</text>
<g transform="translate(60,321.3) rotate(-8)">
<path d="M-1,-14.6 C6,-14.8 9.4,-7 9.2,1 C9,9 5,14.8 -1,14.6 C-6,14.4 -9.2,10 -9,5 C-8.5,3 -7,1.5 -6.5,0 C-8,-2 -9,-5 -8.5,-8 C-7.5,-12 -5,-14.5 -1,-14.6 Z" fill="#d49a9f" stroke="#b98087" stroke-width="0.8"/>
<path d="M-4,-8 C0,-10 5,-8 6,-2 M-3,3 C1,5 4,4 6,1 M-2,8 C1,10 4,9 6,6" fill="none" stroke="#c08087" stroke-width="0.6"/>
<path d="M-7.5,0.5 L-5.5,-1.5 L-5,2 L-7,3.5 Z" fill="#f3e0e2"/>
</g>
<text x="56.20" y="346.00" font-size="6.2" text-anchor="middle">E14.5 FL</text>
<text x="55.50" y="353.30" font-size="6.2" text-anchor="middle" font-style="italic" fill="#333">Nbea<tspan font-size="3.8" dy="-2.5">+/+</tspan><tspan dy="2.5" font-style="normal"> or </tspan>Nbea<tspan font-size="3.8" dy="-2.5">−/−</tspan></text>
<g transform="translate(38.40,361.20) scale(0.98 0.98)">
<path d="M29.5,11 C33,8 38,6.5 43.6,7.3 C44.5,9.5 42,12 39.0,13.0" fill="none" stroke="#e2b860" stroke-width="1.1"/>
<path d="M0.3,9.2 C1,6.5 2.3,4.5 4,3 L8,-0.9 L10.2,3.6 C11,1.2 13.5,-0.2 16.2,-0.1 C18.5,0 19.8,1.8 20,3.6 C24,4.3 28.5,7.5 30.3,12 C31.2,15.5 29.5,19.5 25.5,22.3 L23.8,23 L23.4,28.4 L21.1,28.5 L20.8,23.8 C18,22.5 14,21 11.5,21.6 L9.7,25.6 L7.4,25.6 L7.9,20.6 C5,19.2 2,15.5 0.3,9.2 Z" fill="#e2b440"/>
</g>
<text x="56.20" y="398.70" font-size="6.2" text-anchor="middle">CD45.1<tspan font-size="3.8" dy="-2.5">+</tspan></text>
<line x1="73.80" y1="329.40" x2="101.50" y2="329.40" stroke="#1a1a1a" stroke-width="1.15" />
<path d="M106.00,329.40 L101.00,331.90 L101.90,329.40 L101.00,326.90 Z" fill="#1a1a1a"/>
<line x1="73.80" y1="381.00" x2="101.50" y2="381.00" stroke="#1a1a1a" stroke-width="1.15" />
<path d="M106.00,381.00 L101.00,383.50 L101.90,381.00 L101.00,378.50 Z" fill="#1a1a1a"/>
<circle cx="110.00" cy="324.60" r="2.7" fill="#fff" stroke="#444" stroke-width="0.6"/>
<circle cx="119.00" cy="325.60" r="2.7" fill="#fff" stroke="#444" stroke-width="0.6"/>
<circle cx="114.60" cy="334.00" r="2.7" fill="#fff" stroke="#444" stroke-width="0.6"/>
<circle cx="109.40" cy="375.60" r="2.7" fill="#f2d54a" stroke="#6a5a20" stroke-width="0.6"/>
<circle cx="118.70" cy="376.90" r="2.7" fill="#f2d54a" stroke="#6a5a20" stroke-width="0.6"/>
<circle cx="113.80" cy="384.00" r="2.7" fill="#f2d54a" stroke="#6a5a20" stroke-width="0.6"/>
<text x="114.20" y="354.60" font-size="6.2" text-anchor="middle">HSPC</text>
<text x="114.20" y="361.90" font-size="6.2" text-anchor="middle">isolation</text>
<line x1="122.30" y1="329.80" x2="135.47" y2="343.37" stroke="#1a1a1a" stroke-width="1.15" />
<path d="M138.60,346.60 L133.32,344.75 L135.74,343.66 L136.91,341.27 Z" fill="#1a1a1a"/>
<line x1="122.90" y1="381.20" x2="138.64" y2="370.87" stroke="#1a1a1a" stroke-width="1.15" />
<path d="M142.40,368.40 L139.59,373.23 L138.97,370.65 L136.85,369.05 Z" fill="#1a1a1a"/>
<text x="146.50" y="338.40" font-size="6.0" text-anchor="middle">Mix 1:1</text>
<circle cx="142.70" cy="356.20" r="2.7" fill="#f2d54a" stroke="#6a5a20" stroke-width="0.6"/>
<circle cx="149.80" cy="352.30" r="2.7" fill="#fff" stroke="#444" stroke-width="0.6"/>
<circle cx="146.90" cy="365.00" r="2.7" fill="#f2d54a" stroke="#6a5a20" stroke-width="0.6"/>
<circle cx="153.70" cy="361.90" r="2.7" fill="#fff" stroke="#6a6aa0" stroke-width="0.6"/>
<line x1="156.50" y1="356.70" x2="168.00" y2="356.70" stroke="#1a1a1a" stroke-width="1.15" />
<path d="M172.50,356.70 L167.50,359.20 L168.40,356.70 L167.50,354.20 Z" fill="#1a1a1a"/>
<text x="190.20" y="311.00" font-size="6.2" text-anchor="middle">5.5Gy x 2</text>
<circle cx="192.7" cy="323.6" r="8.2" fill="#f1d23c" stroke="#111" stroke-width="1.3"/>
<path d="M191.40,321.35 L189.15,317.45 A7.1,7.1 0 0 1 196.25,317.45 L194.00,321.35 Z" fill="#111"/>
<path d="M195.30,323.60 L199.80,323.60 A7.1,7.1 0 0 1 196.25,329.75 L194.00,325.85 Z" fill="#111"/>
<path d="M191.40,325.85 L189.15,329.75 A7.1,7.1 0 0 1 185.60,323.60 L190.10,323.60 Z" fill="#111"/>
<circle cx="192.7" cy="323.6" r="1.4" fill="#111"/>
<path transform="translate(204.5,311.5)" d="M4.6,0 L0.2,8.6 L3.3,8.6 L0.2,18 L7.0,6.2 L4.1,6.2 L7.4,0 Z" fill="#f2a224"/>
<text x="194.60" y="339.20" font-size="6.2" text-anchor="middle">CD45.1<tspan font-size="3.8" dy="-2.5">+</tspan><tspan dy="2.5">/CD45.2</tspan><tspan font-size="3.8" dy="-2.5">+</tspan></text>
<g transform="translate(178.70,342.00) scale(1.06 0.96)">
<path d="M29.5,11 C33,8 38,6.5 43.6,7.3 C44.5,9.5 42,12 39.0,13.0" fill="none" stroke="#c4c4c4" stroke-width="1.1"/>
<clipPath id="m2"><path d="M0.3,9.2 C1,6.5 2.3,4.5 4,3 L8,-0.9 L10.2,3.6 C11,1.2 13.5,-0.2 16.2,-0.1 C18.5,0 19.8,1.8 20,3.6 C24,4.3 28.5,7.5 30.3,12 C31.2,15.5 29.5,19.5 25.5,22.3 L23.8,23 L23.4,28.4 L21.1,28.5 L20.8,23.8 C18,22.5 14,21 11.5,21.6 L9.7,25.6 L7.4,25.6 L7.9,20.6 C5,19.2 2,15.5 0.3,9.2 Z"/></clipPath>
<path d="M0.3,9.2 C1,6.5 2.3,4.5 4,3 L8,-0.9 L10.2,3.6 C11,1.2 13.5,-0.2 16.2,-0.1 C18.5,0 19.8,1.8 20,3.6 C24,4.3 28.5,7.5 30.3,12 C31.2,15.5 29.5,19.5 25.5,22.3 L23.8,23 L23.4,28.4 L21.1,28.5 L20.8,23.8 C18,22.5 14,21 11.5,21.6 L9.7,25.6 L7.4,25.6 L7.9,20.6 C5,19.2 2,15.5 0.3,9.2 Z" fill="#e6bb50"/>
<g clip-path="url(#m2)">
<rect x="-1" y="-2" width="6.9" height="34" fill="#bdbdbd"/>
<rect x="13.5" y="-2" width="9.4" height="34" fill="#bdbdbd"/>
</g>
<circle cx="16.2" cy="2.8" r="3.2" fill="#c8c8c8"/>
</g>
<line x1="221.50" y1="356.50" x2="251.00" y2="356.50" stroke="#1a1a1a" stroke-width="1.15" />
<path d="M255.50,356.50 L250.50,359.00 L251.40,356.50 L250.50,354.00 Z" fill="#1a1a1a"/>
<text x="236.40" y="366.80" font-size="6.2" text-anchor="middle">CD45.2+ HSPC</text>
<text x="236.90" y="375.10" font-size="6.2" text-anchor="middle">isolation</text>
<text x="237.40" y="381.80" font-size="6.2" text-anchor="middle" font-style="italic" fill="#333">Nbea<tspan font-size="3.8" dy="-2.5">+/+</tspan><tspan dy="2.5" font-style="normal"> or </tspan>Nbea<tspan font-size="3.8" dy="-2.5">−/−</tspan></text>
<circle cx="258.30" cy="350.40" r="2.7" fill="#fff" stroke="#444" stroke-width="0.6"/>
<circle cx="267.50" cy="351.20" r="2.7" fill="#fff" stroke="#444" stroke-width="0.6"/>
<circle cx="262.70" cy="358.80" r="2.7" fill="#fff" stroke="#444" stroke-width="0.6"/>
<line x1="264.60" y1="345.40" x2="280.41" y2="335.23" stroke="#1a1a1a" stroke-width="1.15" />
<path d="M284.20,332.80 L281.35,337.61 L280.75,335.02 L278.64,333.40 Z" fill="#1a1a1a"/>
<text x="273.80" y="306.00" font-size="6.2" text-anchor="middle">Transduction with</text>
<text x="273.80" y="313.50" font-size="6.2" text-anchor="middle">control or</text>
<text x="273.30" y="321.00" font-size="6.2" text-anchor="middle">BDCP-shRNAs</text>
<circle cx="289.00" cy="325.80" r="2.7" fill="#e26a6a" stroke="#6a2a2a" stroke-width="0.6"/>
<circle cx="298.10" cy="327.10" r="2.7" fill="#fff" stroke="#444" stroke-width="0.6"/>
<circle cx="293.50" cy="335.00" r="2.7" fill="#e26a6a" stroke="#6a2a2a" stroke-width="0.6"/>
<line x1="308.30" y1="331.50" x2="335.70" y2="331.50" stroke="#1a1a1a" stroke-width="1.15" />
<path d="M340.20,331.50 L335.20,334.00 L336.10,331.50 L335.20,329.00 Z" fill="#1a1a1a"/>
<g transform="translate(268.50,361.30) scale(1.0 1.0)">
<path d="M29.5,11 C33,8 38,6.5 43.6,7.3 C44.5,9.5 42,12 39.0,13.0" fill="none" stroke="#e2b860" stroke-width="1.1"/>
<path d="M0.3,9.2 C1,6.5 2.3,4.5 4,3 L8,-0.9 L10.2,3.6 C11,1.2 13.5,-0.2 16.2,-0.1 C18.5,0 19.8,1.8 20,3.6 C24,4.3 28.5,7.5 30.3,12 C31.2,15.5 29.5,19.5 25.5,22.3 L23.8,23 L23.4,28.4 L21.1,28.5 L20.8,23.8 C18,22.5 14,21 11.5,21.6 L9.7,25.6 L7.4,25.6 L7.9,20.6 C5,19.2 2,15.5 0.3,9.2 Z" fill="#e2b440"/>
</g>
<text x="285.50" y="397.00" font-size="6.2" text-anchor="middle">CD45.1<tspan font-size="3.8" dy="-2.5">+</tspan></text>
<text x="323.70" y="370.00" font-size="6.2" text-anchor="middle">HSPC</text>
<text x="323.70" y="377.10" font-size="6.2" text-anchor="middle">isolation</text>
<line x1="308.30" y1="380.60" x2="335.70" y2="380.60" stroke="#1a1a1a" stroke-width="1.15" />
<path d="M340.20,380.60 L335.20,383.10 L336.10,380.60 L335.20,378.10 Z" fill="#1a1a1a"/>
<circle cx="346.30" cy="324.80" r="2.7" fill="#e26a6a" stroke="#6a2a2a" stroke-width="0.6"/>
<circle cx="354.60" cy="325.80" r="2.7" fill="#fff" stroke="#444" stroke-width="0.6"/>
<circle cx="350.20" cy="334.00" r="2.7" fill="#e26a6a" stroke="#6a2a2a" stroke-width="0.6"/>
<circle cx="345.00" cy="375.40" r="2.7" fill="#f2d54a" stroke="#6a5a20" stroke-width="0.6"/>
<circle cx="353.50" cy="376.70" r="2.7" fill="#f2d54a" stroke="#6a5a20" stroke-width="0.6"/>
<circle cx="348.70" cy="383.80" r="2.7" fill="#f2d54a" stroke="#6a5a20" stroke-width="0.6"/>
<line x1="356.90" y1="331.20" x2="370.35" y2="344.09" stroke="#1a1a1a" stroke-width="1.15" />
<path d="M373.60,347.20 L368.26,345.55 L370.64,344.36 L371.72,341.94 Z" fill="#1a1a1a"/>
<line x1="356.90" y1="382.50" x2="372.36" y2="372.20" stroke="#1a1a1a" stroke-width="1.15" />
<path d="M376.10,369.70 L373.33,374.55 L372.69,371.97 L370.55,370.39 Z" fill="#1a1a1a"/>
<text x="380.40" y="340.00" font-size="6.0" text-anchor="middle">Mix 3:2</text>
<circle cx="380.40" cy="351.30" r="2.7" fill="#e26a6a" stroke="#6a2a2a" stroke-width="0.6"/>
<circle cx="373.80" cy="354.60" r="2.7" fill="#f2d54a" stroke="#6a5a20" stroke-width="0.6"/>
<circle cx="384.80" cy="360.40" r="2.7" fill="#e26a6a" stroke="#6a2a2a" stroke-width="0.6"/>
<circle cx="370.80" cy="361.30" r="2.7" fill="#f2d54a" stroke="#6a5a20" stroke-width="0.6"/>
<circle cx="377.70" cy="363.30" r="2.7" fill="#f2d54a" stroke="#6a5a20" stroke-width="0.6"/>
<line x1="390.00" y1="357.50" x2="402.70" y2="357.50" stroke="#1a1a1a" stroke-width="1.15" />
<path d="M407.20,357.50 L402.20,360.00 L403.10,357.50 L402.20,355.00 Z" fill="#1a1a1a"/>
<text x="423.70" y="318.50" font-size="6.2" text-anchor="middle">5.5Gy x 2</text>
<circle cx="426.5" cy="330.8" r="8.1" fill="#f1d23c" stroke="#111" stroke-width="1.3"/>
<path d="M425.20,328.55 L423.00,324.74 A7.0,7.0 0 0 1 430.00,324.74 L427.80,328.55 Z" fill="#111"/>
<path d="M429.10,330.80 L433.50,330.80 A7.0,7.0 0 0 1 430.00,336.86 L427.80,333.05 Z" fill="#111"/>
<path d="M425.20,333.05 L423.00,336.86 A7.0,7.0 0 0 1 419.50,330.80 L423.90,330.80 Z" fill="#111"/>
<circle cx="426.5" cy="330.8" r="1.4" fill="#111"/>
<path transform="translate(438.2,319.2)" d="M4.6,0 L0.2,8.6 L3.3,8.6 L0.2,18 L7.0,6.2 L4.1,6.2 L7.4,0 Z" fill="#f2a224"/>
<g transform="translate(411.90,342.20) scale(1.05 0.98)">
<path d="M29.5,11 C33,8 38,6.5 43.6,7.3 C44.5,9.5 42,12 39.0,13.0" fill="none" stroke="#c86a78" stroke-width="1.1"/>
<clipPath id="m3"><path d="M0.3,9.2 C1,6.5 2.3,4.5 4,3 L8,-0.9 L10.2,3.6 C11,1.2 13.5,-0.2 16.2,-0.1 C18.5,0 19.8,1.8 20,3.6 C24,4.3 28.5,7.5 30.3,12 C31.2,15.5 29.5,19.5 25.5,22.3 L23.8,23 L23.4,28.4 L21.1,28.5 L20.8,23.8 C18,22.5 14,21 11.5,21.6 L9.7,25.6 L7.4,25.6 L7.9,20.6 C5,19.2 2,15.5 0.3,9.2 Z"/></clipPath>
<path d="M0.3,9.2 C1,6.5 2.3,4.5 4,3 L8,-0.9 L10.2,3.6 C11,1.2 13.5,-0.2 16.2,-0.1 C18.5,0 19.8,1.8 20,3.6 C24,4.3 28.5,7.5 30.3,12 C31.2,15.5 29.5,19.5 25.5,22.3 L23.8,23 L23.4,28.4 L21.1,28.5 L20.8,23.8 C18,22.5 14,21 11.5,21.6 L9.7,25.6 L7.4,25.6 L7.9,20.6 C5,19.2 2,15.5 0.3,9.2 Z" fill="#e8c052"/>
<g clip-path="url(#m3)">
<rect x="-1" y="-2" width="7.6" height="34" fill="#b8474f"/>
<rect x="11.5" y="-2" width="8.6" height="34" fill="#b8474f"/>
</g>
<circle cx="16.2" cy="2.8" r="3.0" fill="#d07a8a"/>
</g>
<text x="428.20" y="378.20" font-size="6.2" text-anchor="middle">CD45.1<tspan font-size="3.8" dy="-2.5">+</tspan><tspan dy="2.5">/CD45.2</tspan><tspan font-size="3.8" dy="-2.5">+</tspan></text>
<text x="483.50" y="345.80" font-size="6.2" text-anchor="middle">Sample PB and</text>
<text x="482.50" y="352.90" font-size="6.2" text-anchor="middle">BM</text>
<text x="483.30" y="360.20" font-size="6.2" text-anchor="middle">post-transplant</text>
<text x="6.50" y="418.70" font-size="10.5" font-weight="bold" fill="#000">D</text>
<line x1="88.20" y1="434.50" x2="88.20" y2="509.60" stroke="#1a1a1a" stroke-width="1.15" />
<line x1="87.65" y1="509.20" x2="196.50" y2="509.20" stroke="#1a1a1a" stroke-width="1.15" />
<line x1="85.60" y1="509.20" x2="88.20" y2="509.20" stroke="#1a1a1a" stroke-width="0.7" />
<text x="83.90" y="511.40" font-size="6.3" text-anchor="end" fill="#3a3a3a">0.0</text>
<line x1="85.60" y1="485.00" x2="88.20" y2="485.00" stroke="#1a1a1a" stroke-width="0.7" />
<text x="83.90" y="487.20" font-size="6.3" text-anchor="end" fill="#3a3a3a">0.5</text>
<line x1="85.60" y1="460.80" x2="88.20" y2="460.80" stroke="#1a1a1a" stroke-width="0.7" />
<text x="83.90" y="463.00" font-size="6.3" text-anchor="end" fill="#3a3a3a">1.0</text>
<line x1="85.60" y1="436.60" x2="88.20" y2="436.60" stroke="#1a1a1a" stroke-width="0.7" />
<text x="83.90" y="438.80" font-size="6.3" text-anchor="end" fill="#3a3a3a">1.5</text>
<line x1="86.70" y1="497.10" x2="88.20" y2="497.10" stroke="#1a1a1a" stroke-width="0.5" />
<line x1="86.70" y1="472.90" x2="88.20" y2="472.90" stroke="#1a1a1a" stroke-width="0.5" />
<line x1="86.70" y1="448.70" x2="88.20" y2="448.70" stroke="#1a1a1a" stroke-width="0.5" />
<line x1="107.60" y1="509.20" x2="107.60" y2="511.60" stroke="#1a1a1a" stroke-width="0.7" />
<text x="107.60" y="521.00" font-size="6.4" text-anchor="middle" stroke="#2a2a2a" stroke-width="0.18">4</text>
<line x1="144.20" y1="509.20" x2="144.20" y2="511.60" stroke="#1a1a1a" stroke-width="0.7" />
<text x="144.20" y="521.00" font-size="6.4" text-anchor="middle" stroke="#2a2a2a" stroke-width="0.18">10</text>
<line x1="180.60" y1="509.20" x2="180.60" y2="511.60" stroke="#1a1a1a" stroke-width="0.7" />
<text x="180.60" y="521.00" font-size="6.4" text-anchor="middle" stroke="#2a2a2a" stroke-width="0.18">16</text>
<text x="143.80" y="531.60" font-size="6.8" text-anchor="middle" textLength="55.5" lengthAdjust="spacingAndGlyphs" stroke="#2a2a2a" stroke-width="0.3">Weeks post-transplant</text>
<line x1="144.20" y1="456.20" x2="144.20" y2="487.50" stroke="#808080" stroke-width="0.8" />
<line x1="141.90" y1="456.20" x2="146.50" y2="456.20" stroke="#808080" stroke-width="0.8" />
<line x1="141.90" y1="487.50" x2="146.50" y2="487.50" stroke="#808080" stroke-width="0.8" />
<line x1="144.20" y1="465.60" x2="144.20" y2="465.60" stroke="#808080" stroke-width="0.8" />
<line x1="141.90" y1="465.60" x2="146.50" y2="465.60" stroke="#808080" stroke-width="0.8" />
<line x1="180.60" y1="440.70" x2="180.60" y2="478.00" stroke="#808080" stroke-width="0.8" />
<line x1="178.30" y1="440.70" x2="182.90" y2="440.70" stroke="#808080" stroke-width="0.8" />
<line x1="178.30" y1="478.00" x2="182.90" y2="478.00" stroke="#808080" stroke-width="0.8" />
<line x1="180.60" y1="467.30" x2="180.60" y2="467.30" stroke="#808080" stroke-width="0.8" />
<line x1="178.30" y1="467.30" x2="182.90" y2="467.30" stroke="#808080" stroke-width="0.8" />
<line x1="180.60" y1="488.70" x2="180.60" y2="494.00" stroke="#808080" stroke-width="0.8" />
<line x1="178.30" y1="488.70" x2="182.90" y2="488.70" stroke="#808080" stroke-width="0.8" />
<line x1="178.30" y1="494.00" x2="182.90" y2="494.00" stroke="#808080" stroke-width="0.8" />
<line x1="107.60" y1="476.50" x2="107.60" y2="481.00" stroke="#808080" stroke-width="0.8" />
<line x1="105.30" y1="476.50" x2="109.90" y2="476.50" stroke="#808080" stroke-width="0.8" />
<line x1="105.30" y1="481.00" x2="109.90" y2="481.00" stroke="#808080" stroke-width="0.8" />
<polyline points="107.60,482.10 144.20,495.65 180.60,500.49" fill="none" stroke="#8585c5" stroke-width="0.9"/>
<polyline points="107.60,481.13 144.20,492.26 180.60,493.23" fill="none" stroke="#f2c038" stroke-width="1.5"/>
<polyline points="107.60,477.74 144.20,486.45 180.60,491.29" fill="none" stroke="#c8343c" stroke-width="1.2"/>
<polyline points="107.60,479.19 144.20,471.93 180.60,459.83" fill="none" stroke="#4a9e4a" stroke-width="0.9"/>
<polyline points="107.60,460.80 144.20,460.80 180.60,460.80" fill="none" stroke="#6f86a6" stroke-width="1.5"/>
<circle cx="107.60" cy="482.10" r="2.1" fill="#8e8ec4" stroke="#555580" stroke-width="0.7"/>
<circle cx="144.20" cy="495.65" r="2.1" fill="#8e8ec4" stroke="#555580" stroke-width="0.7"/>
<circle cx="180.60" cy="500.49" r="2.1" fill="#8e8ec4" stroke="#555580" stroke-width="0.7"/>
<rect x="105.50" y="479.03" width="4.2" height="4.2" fill="#f2b62a" stroke="#8a6a10" stroke-width="0.7"/>
<circle cx="144.20" cy="492.26" r="2.1" fill="#f2b62a" stroke="#8a6a10" stroke-width="0.7"/>
<rect x="178.50" y="491.13" width="4.2" height="4.2" fill="#f2b62a" stroke="#8a6a10" stroke-width="0.7"/>
<rect x="105.50" y="475.64" width="4.2" height="4.2" fill="#b3202c" stroke="#5a0a10" stroke-width="0.7"/>
<circle cx="144.20" cy="486.45" r="2.1" fill="#b3202c" stroke="#5a0a10" stroke-width="0.7"/>
<rect x="178.50" y="489.19" width="4.2" height="4.2" fill="#b3202c" stroke="#5a0a10" stroke-width="0.7"/>
<circle cx="107.60" cy="479.19" r="2.1" fill="#3f9b45" stroke="#1f6a25" stroke-width="0.7"/>
<circle cx="144.20" cy="471.93" r="2.1" fill="#3f9b45" stroke="#1f6a25" stroke-width="0.7"/>
<circle cx="180.60" cy="459.83" r="2.1" fill="#3f9b45" stroke="#1f6a25" stroke-width="0.7"/>
<circle cx="107.60" cy="460.80" r="2.1" fill="#1f3c62" stroke="#10223a" stroke-width="0.7"/>
<circle cx="144.20" cy="460.80" r="2.1" fill="#1f3c62" stroke="#10223a" stroke-width="0.7"/>
<circle cx="180.60" cy="460.80" r="2.1" fill="#1f3c62" stroke="#10223a" stroke-width="0.7"/>
<text x="107.60" y="436.60" font-size="6.0" text-anchor="middle" fill="#444">**</text>
<text x="107.60" y="443.00" font-size="6.4" text-anchor="middle" fill="#505050" letter-spacing="0.4" stroke="#505050" stroke-width="0.15">##</text>
<circle cx="104.00" cy="445.70" r="1.2" fill="#111"/>
<circle cx="107.60" cy="445.70" r="1.2" fill="#111"/>
<circle cx="111.20" cy="445.70" r="1.2" fill="#111"/>
<path d="M101.50,449.45 L105.10,449.45 L103.30,452.51 Z" fill="none" stroke="#222" stroke-width="0.6"/>
<path d="M105.80,449.45 L109.40,449.45 L107.60,452.51 Z" fill="none" stroke="#222" stroke-width="0.6"/>
<path d="M110.10,449.45 L113.70,449.45 L111.90,452.51 Z" fill="none" stroke="#222" stroke-width="0.6"/>
<text x="144.20" y="443.00" font-size="6.4" text-anchor="middle" fill="#505050" letter-spacing="0.4" stroke="#505050" stroke-width="0.15">##</text>
<circle cx="142.40" cy="446.00" r="1.2" fill="#111"/>
<circle cx="146.00" cy="446.00" r="1.2" fill="#111"/>
<path d="M142.40,449.45 L146.00,449.45 L144.20,452.51 Z" fill="none" stroke="#222" stroke-width="0.6"/>
<text x="180.60" y="429.20" font-size="6.4" text-anchor="middle" fill="#505050" letter-spacing="0.4" stroke="#505050" stroke-width="0.15">##</text>
<circle cx="180.60" cy="431.80" r="1.2" fill="#111"/>
<path d="M178.80,435.55 L182.40,435.55 L180.60,438.61 Z" fill="none" stroke="#222" stroke-width="0.6"/>
<text x="144.20" y="420.60" font-size="8.6" text-anchor="middle"><tspan font-style="italic">Nbea</tspan><tspan font-size="6" dy="-3.6">+/+</tspan><tspan dy="3.6"> HSPCs</tspan></text>
<line x1="203.00" y1="452.00" x2="210.80" y2="452.00" stroke="#1f3c62" stroke-width="1.0" />
<circle cx="206.90" cy="452.00" r="2.1" fill="#1f3c62" stroke="#10223a" stroke-width="0.7"/>
<text x="213.80" y="454.30" font-size="6.6" textLength="39.2" lengthAdjust="spacingAndGlyphs">Control shRNA</text>
<line x1="203.00" y1="462.30" x2="210.80" y2="462.30" stroke="#3f9b45" stroke-width="1.0" />
<circle cx="206.90" cy="462.30" r="2.1" fill="#3f9b45" stroke="#1f6a25" stroke-width="0.7"/>
<text x="213.80" y="464.60" font-size="6.6" textLength="32.2" lengthAdjust="spacingAndGlyphs"><tspan font-style="italic">Lrba</tspan>-shRNA</text>
<line x1="203.00" y1="472.60" x2="210.80" y2="472.60" stroke="#8e8ec4" stroke-width="1.0" />
<circle cx="206.90" cy="472.60" r="2.1" fill="#8e8ec4" stroke="#555580" stroke-width="0.7"/>
<text x="213.80" y="474.90" font-size="6.6" textLength="30.4" lengthAdjust="spacingAndGlyphs"><tspan font-style="italic">Lyst</tspan>-shRNA</text>
<line x1="203.00" y1="482.60" x2="210.80" y2="482.60" stroke="#f2b62a" stroke-width="1.0" />
<circle cx="206.90" cy="482.60" r="2.1" fill="#f2b62a" stroke="#8a6a10" stroke-width="0.7"/>
<text x="213.80" y="484.90" font-size="6.6" textLength="39.2" lengthAdjust="spacingAndGlyphs"><tspan font-style="italic">Nbeal1</tspan>-shRNA</text>
<line x1="203.00" y1="492.80" x2="210.80" y2="492.80" stroke="#b3202c" stroke-width="1.0" />
<circle cx="206.90" cy="492.80" r="2.1" fill="#b3202c" stroke="#5a0a10" stroke-width="0.7"/>
<text x="213.80" y="495.10" font-size="6.6" textLength="39.2" lengthAdjust="spacingAndGlyphs"><tspan font-style="italic">Nbeal2</tspan>-shRNA</text>
<line x1="315.30" y1="434.50" x2="315.30" y2="510.00" stroke="#1a1a1a" stroke-width="1.15" />
<line x1="314.75" y1="509.60" x2="425.50" y2="509.60" stroke="#1a1a1a" stroke-width="1.15" />
<line x1="312.70" y1="509.60" x2="315.30" y2="509.60" stroke="#1a1a1a" stroke-width="0.7" />
<text x="311.00" y="511.80" font-size="6.3" text-anchor="end" fill="#3a3a3a">0.0</text>
<line x1="312.70" y1="485.30" x2="315.30" y2="485.30" stroke="#1a1a1a" stroke-width="0.7" />
<text x="311.00" y="487.50" font-size="6.3" text-anchor="end" fill="#3a3a3a">0.5</text>
<line x1="312.70" y1="461.00" x2="315.30" y2="461.00" stroke="#1a1a1a" stroke-width="0.7" />
<text x="311.00" y="463.20" font-size="6.3" text-anchor="end" fill="#3a3a3a">1.0</text>
<line x1="312.70" y1="436.70" x2="315.30" y2="436.70" stroke="#1a1a1a" stroke-width="0.7" />
<text x="311.00" y="438.90" font-size="6.3" text-anchor="end" fill="#3a3a3a">1.5</text>
<line x1="313.80" y1="497.45" x2="315.30" y2="497.45" stroke="#1a1a1a" stroke-width="0.5" />
<line x1="313.80" y1="473.15" x2="315.30" y2="473.15" stroke="#1a1a1a" stroke-width="0.5" />
<line x1="313.80" y1="448.85" x2="315.30" y2="448.85" stroke="#1a1a1a" stroke-width="0.5" />
<line x1="334.00" y1="509.60" x2="334.00" y2="512.00" stroke="#1a1a1a" stroke-width="0.7" />
<text x="334.00" y="521.40" font-size="6.4" text-anchor="middle" stroke="#2a2a2a" stroke-width="0.18">4</text>
<line x1="370.50" y1="509.60" x2="370.50" y2="512.00" stroke="#1a1a1a" stroke-width="0.7" />
<text x="370.50" y="521.40" font-size="6.4" text-anchor="middle" stroke="#2a2a2a" stroke-width="0.18">10</text>
<line x1="407.00" y1="509.60" x2="407.00" y2="512.00" stroke="#1a1a1a" stroke-width="0.7" />
<text x="407.00" y="521.40" font-size="6.4" text-anchor="middle" stroke="#2a2a2a" stroke-width="0.18">16</text>
<text x="370.20" y="531.60" font-size="6.8" text-anchor="middle" textLength="55.5" lengthAdjust="spacingAndGlyphs" stroke="#2a2a2a" stroke-width="0.3">Weeks post-transplant</text>
<line x1="370.50" y1="463.50" x2="370.50" y2="473.00" stroke="#808080" stroke-width="0.8" />
<line x1="368.20" y1="463.50" x2="372.80" y2="463.50" stroke="#808080" stroke-width="0.8" />
<line x1="368.20" y1="473.00" x2="372.80" y2="473.00" stroke="#808080" stroke-width="0.8" />
<line x1="407.00" y1="461.50" x2="407.00" y2="478.80" stroke="#808080" stroke-width="0.8" />
<line x1="404.70" y1="461.50" x2="409.30" y2="461.50" stroke="#808080" stroke-width="0.8" />
<line x1="404.70" y1="478.80" x2="409.30" y2="478.80" stroke="#808080" stroke-width="0.8" />
<line x1="334.00" y1="477.50" x2="334.00" y2="486.00" stroke="#808080" stroke-width="0.8" />
<line x1="331.70" y1="477.50" x2="336.30" y2="477.50" stroke="#808080" stroke-width="0.8" />
<line x1="331.70" y1="486.00" x2="336.30" y2="486.00" stroke="#808080" stroke-width="0.8" />
<line x1="370.50" y1="488.50" x2="370.50" y2="496.00" stroke="#808080" stroke-width="0.8" />
<line x1="368.20" y1="488.50" x2="372.80" y2="488.50" stroke="#808080" stroke-width="0.8" />
<line x1="368.20" y1="496.00" x2="372.80" y2="496.00" stroke="#808080" stroke-width="0.8" />
<line x1="407.00" y1="486.00" x2="407.00" y2="497.00" stroke="#808080" stroke-width="0.8" />
<line x1="404.70" y1="486.00" x2="409.30" y2="486.00" stroke="#808080" stroke-width="0.8" />
<line x1="404.70" y1="497.00" x2="409.30" y2="497.00" stroke="#808080" stroke-width="0.8" />
<polyline points="334.00,484.33 370.50,495.99 407.00,499.88" fill="none" stroke="#8585c5" stroke-width="0.9"/>
<polyline points="334.00,482.87 370.50,495.02 407.00,496.96" fill="none" stroke="#f2c038" stroke-width="1.5"/>
<polyline points="334.00,494.05 370.50,500.85 407.00,502.31" fill="none" stroke="#c8343c" stroke-width="1.2"/>
<polyline points="334.00,481.90 370.50,493.08 407.00,491.13" fill="none" stroke="#4a9e4a" stroke-width="0.9"/>
<polyline points="334.00,471.69 370.50,468.78 407.00,470.72" fill="none" stroke="#6f86a6" stroke-width="1.5"/>
<circle cx="334.00" cy="484.33" r="2.1" fill="#8e8ec4" stroke="#555580" stroke-width="0.7"/>
<circle cx="370.50" cy="495.99" r="2.1" fill="#8e8ec4" stroke="#555580" stroke-width="0.7"/>
<circle cx="407.00" cy="499.88" r="2.1" fill="#8e8ec4" stroke="#555580" stroke-width="0.7"/>
<circle cx="334.00" cy="482.87" r="2.1" fill="#f2b62a" stroke="#8a6a10" stroke-width="0.7"/>
<circle cx="370.50" cy="495.02" r="2.1" fill="#f2b62a" stroke="#8a6a10" stroke-width="0.7"/>
<circle cx="407.00" cy="496.96" r="2.1" fill="#f2b62a" stroke="#8a6a10" stroke-width="0.7"/>
<circle cx="334.00" cy="494.05" r="2.1" fill="#b3202c" stroke="#5a0a10" stroke-width="0.7"/>
<circle cx="370.50" cy="500.85" r="2.1" fill="#b3202c" stroke="#5a0a10" stroke-width="0.7"/>
<circle cx="407.00" cy="502.31" r="2.1" fill="#b3202c" stroke="#5a0a10" stroke-width="0.7"/>
<circle cx="334.00" cy="481.90" r="2.1" fill="#3f9b45" stroke="#1f6a25" stroke-width="0.7"/>
<circle cx="370.50" cy="493.08" r="2.1" fill="#3f9b45" stroke="#1f6a25" stroke-width="0.7"/>
<circle cx="407.00" cy="491.13" r="2.1" fill="#3f9b45" stroke="#1f6a25" stroke-width="0.7"/>
<circle cx="334.00" cy="471.69" r="2.1" fill="#1f3c62" stroke="#10223a" stroke-width="0.7"/>
<circle cx="370.50" cy="468.78" r="2.1" fill="#1f3c62" stroke="#10223a" stroke-width="0.7"/>
<circle cx="407.00" cy="470.72" r="2.1" fill="#1f3c62" stroke="#10223a" stroke-width="0.7"/>
<text x="334.00" y="453.70" font-size="6.0" text-anchor="middle" fill="#444">***</text>
<text x="334.00" y="459.00" font-size="6.4" text-anchor="middle" fill="#505050" letter-spacing="0.4" stroke="#505050" stroke-width="0.15">###</text>
<circle cx="330.40" cy="461.90" r="1.2" fill="#111"/>
<circle cx="334.00" cy="461.90" r="1.2" fill="#111"/>
<circle cx="337.60" cy="461.90" r="1.2" fill="#111"/>
<path d="M327.90,465.45 L331.50,465.45 L329.70,468.51 Z" fill="none" stroke="#222" stroke-width="0.6"/>
<path d="M332.20,465.45 L335.80,465.45 L334.00,468.51 Z" fill="none" stroke="#222" stroke-width="0.6"/>
<path d="M336.50,465.45 L340.10,465.45 L338.30,468.51 Z" fill="none" stroke="#222" stroke-width="0.6"/>
<text x="370.50" y="444.60" font-size="6.0" text-anchor="middle" fill="#444">**</text>
<text x="370.50" y="448.90" font-size="6.4" text-anchor="middle" fill="#505050" letter-spacing="0.4" stroke="#505050" stroke-width="0.15">###</text>
<circle cx="368.70" cy="451.70" r="1.2" fill="#111"/>
<circle cx="372.30" cy="451.70" r="1.2" fill="#111"/>
<path d="M364.40,454.95 L368.00,454.95 L366.20,458.01 Z" fill="none" stroke="#222" stroke-width="0.6"/>
<path d="M368.70,454.95 L372.30,454.95 L370.50,458.01 Z" fill="none" stroke="#222" stroke-width="0.6"/>
<path d="M373.00,454.95 L376.60,454.95 L374.80,458.01 Z" fill="none" stroke="#222" stroke-width="0.6"/>
<text x="407.00" y="444.60" font-size="6.0" text-anchor="middle" fill="#444">*</text>
<text x="407.00" y="449.70" font-size="6.4" text-anchor="middle" fill="#505050" letter-spacing="0.4" stroke="#505050" stroke-width="0.15">##</text>
<circle cx="407.00" cy="451.70" r="1.2" fill="#111"/>
<path d="M400.90,454.95 L404.50,454.95 L402.70,458.01 Z" fill="none" stroke="#222" stroke-width="0.6"/>
<path d="M405.20,454.95 L408.80,454.95 L407.00,458.01 Z" fill="none" stroke="#222" stroke-width="0.6"/>
<path d="M409.50,454.95 L413.10,454.95 L411.30,458.01 Z" fill="none" stroke="#222" stroke-width="0.6"/>
<text x="370.50" y="420.60" font-size="8.6" text-anchor="middle"><tspan font-style="italic">Nbea</tspan><tspan font-size="6" dy="-3.6">−/−</tspan><tspan dy="3.6"> HSPCs</tspan></text>
<line x1="429.20" y1="452.00" x2="437.00" y2="452.00" stroke="#1f3c62" stroke-width="1.0" />
<circle cx="433.10" cy="452.00" r="2.1" fill="#1f3c62" stroke="#10223a" stroke-width="0.7"/>
<text x="440.00" y="454.30" font-size="6.6" textLength="39.4" lengthAdjust="spacingAndGlyphs">Control shRNA</text>
<line x1="429.20" y1="462.30" x2="437.00" y2="462.30" stroke="#3f9b45" stroke-width="1.0" />
<circle cx="433.10" cy="462.30" r="2.1" fill="#3f9b45" stroke="#1f6a25" stroke-width="0.7"/>
<text x="440.00" y="464.60" font-size="6.6" textLength="32.3" lengthAdjust="spacingAndGlyphs"><tspan font-style="italic">Lrba</tspan>-shRNA</text>
<line x1="429.20" y1="472.60" x2="437.00" y2="472.60" stroke="#8e8ec4" stroke-width="1.0" />
<circle cx="433.10" cy="472.60" r="2.1" fill="#8e8ec4" stroke="#555580" stroke-width="0.7"/>
<text x="440.00" y="474.90" font-size="6.6" textLength="30.5" lengthAdjust="spacingAndGlyphs"><tspan font-style="italic">Lyst</tspan>-shRNA</text>
<line x1="429.20" y1="482.60" x2="437.00" y2="482.60" stroke="#f2b62a" stroke-width="1.0" />
<circle cx="433.10" cy="482.60" r="2.1" fill="#f2b62a" stroke="#8a6a10" stroke-width="0.7"/>
<text x="440.00" y="484.90" font-size="6.6" textLength="39.4" lengthAdjust="spacingAndGlyphs"><tspan font-style="italic">Nbeal1</tspan>-shRNA</text>
<line x1="429.20" y1="492.80" x2="437.00" y2="492.80" stroke="#b3202c" stroke-width="1.0" />
<circle cx="433.10" cy="492.80" r="2.1" fill="#b3202c" stroke="#5a0a10" stroke-width="0.7"/>
<text x="440.00" y="495.10" font-size="6.6" textLength="39.4" lengthAdjust="spacingAndGlyphs"><tspan font-style="italic">Nbeal2</tspan>-shRNA</text>
<text x="49.60" y="472.60" font-size="6.8" text-anchor="middle" transform="rotate(-90 49.60 472.60)" textLength="65" lengthAdjust="spacingAndGlyphs" stroke="#2a2a2a" stroke-width="0.32">CD45.2+mCherry+ cells%</text>
<text x="59.80" y="472.60" font-size="6.8" text-anchor="middle" transform="rotate(-90 59.80 472.60)" textLength="55" lengthAdjust="spacingAndGlyphs" stroke="#2a2a2a" stroke-width="0.32">normalized to <tspan font-style="italic">Nbea</tspan><tspan font-size="4.4" dy="-2.6">+/+</tspan></text>
<text x="69.30" y="472.60" font-size="6.8" text-anchor="middle" transform="rotate(-90 69.30 472.60)" textLength="39" lengthAdjust="spacingAndGlyphs" stroke="#2a2a2a" stroke-width="0.32">control-shRNA</text>
<text x="276.80" y="472.60" font-size="6.8" text-anchor="middle" transform="rotate(-90 276.80 472.60)" textLength="65" lengthAdjust="spacingAndGlyphs" stroke="#2a2a2a" stroke-width="0.32">CD45.2+mCherry+ cells%</text>
<text x="287.00" y="472.60" font-size="6.8" text-anchor="middle" transform="rotate(-90 287.00 472.60)" textLength="55" lengthAdjust="spacingAndGlyphs" stroke="#2a2a2a" stroke-width="0.32">normalized to <tspan font-style="italic">Nbea</tspan><tspan font-size="4.4" dy="-2.6">+/+</tspan></text>
<text x="296.50" y="472.60" font-size="6.8" text-anchor="middle" transform="rotate(-90 296.50 472.60)" textLength="39" lengthAdjust="spacingAndGlyphs" stroke="#2a2a2a" stroke-width="0.32">control-shRNA</text>
<text x="6.50" y="553.00" font-size="10.5" font-weight="bold" fill="#000">E</text>
<line x1="88.20" y1="559.80" x2="88.20" y2="636.30" stroke="#1a1a1a" stroke-width="1.15" />
<line x1="85.60" y1="635.90" x2="88.20" y2="635.90" stroke="#1a1a1a" stroke-width="0.7" />
<text x="83.20" y="638.10" font-size="6.3" text-anchor="end" fill="#3a3a3a">0</text>
<line x1="85.60" y1="611.05" x2="88.20" y2="611.05" stroke="#1a1a1a" stroke-width="0.7" />
<text x="83.20" y="613.25" font-size="6.3" text-anchor="end" fill="#3a3a3a">1</text>
<line x1="85.60" y1="586.20" x2="88.20" y2="586.20" stroke="#1a1a1a" stroke-width="0.7" />
<text x="83.20" y="588.40" font-size="6.3" text-anchor="end" fill="#3a3a3a">2</text>
<line x1="85.60" y1="561.35" x2="88.20" y2="561.35" stroke="#1a1a1a" stroke-width="0.7" />
<text x="83.20" y="563.55" font-size="6.3" text-anchor="end" fill="#3a3a3a">3</text>
<line x1="86.70" y1="623.48" x2="88.20" y2="623.48" stroke="#1a1a1a" stroke-width="0.5" />
<line x1="86.70" y1="598.62" x2="88.20" y2="598.62" stroke="#1a1a1a" stroke-width="0.5" />
<line x1="86.70" y1="573.77" x2="88.20" y2="573.77" stroke="#1a1a1a" stroke-width="0.5" />
<line x1="88.20" y1="611.05" x2="202.50" y2="611.05" stroke="#000" stroke-width="1.05" stroke-dasharray="1.7,1.5"/>
<line x1="98.20" y1="635.90" x2="98.20" y2="638.30" stroke="#1a1a1a" stroke-width="0.7" />
<text x="101.80" y="644.70" font-size="6.6" text-anchor="end" fill="#3a3a3a" transform="rotate(-45 101.80 644.70)">HSC</text>
<line x1="117.00" y1="635.90" x2="117.00" y2="638.30" stroke="#1a1a1a" stroke-width="0.7" />
<text x="120.60" y="644.70" font-size="6.6" text-anchor="end" fill="#3a3a3a" transform="rotate(-45 120.60 644.70)">MPP</text>
<line x1="135.60" y1="635.90" x2="135.60" y2="638.30" stroke="#1a1a1a" stroke-width="0.7" />
<text x="139.20" y="644.70" font-size="6.6" text-anchor="end" fill="#3a3a3a" transform="rotate(-45 139.20 644.70)">CMP</text>
<line x1="154.30" y1="635.90" x2="154.30" y2="638.30" stroke="#1a1a1a" stroke-width="0.7" />
<text x="157.90" y="644.70" font-size="6.6" text-anchor="end" fill="#3a3a3a" transform="rotate(-45 157.90 644.70)">GMP</text>
<line x1="172.60" y1="635.90" x2="172.60" y2="638.30" stroke="#1a1a1a" stroke-width="0.7" />
<text x="176.20" y="644.70" font-size="6.6" text-anchor="end" fill="#3a3a3a" transform="rotate(-45 176.20 644.70)">MEP</text>
<line x1="191.40" y1="635.90" x2="191.40" y2="638.30" stroke="#1a1a1a" stroke-width="0.7" />
<text x="195.00" y="644.70" font-size="6.6" text-anchor="end" fill="#3a3a3a" transform="rotate(-45 195.00 644.70)">CLP</text>
<line x1="98.20" y1="604.60" x2="98.20" y2="615.20" stroke="#777" stroke-width="0.8" />
<line x1="95.90" y1="604.60" x2="100.50" y2="604.60" stroke="#777" stroke-width="0.8" />
<line x1="95.90" y1="615.20" x2="100.50" y2="615.20" stroke="#777" stroke-width="0.8" />
<line x1="117.00" y1="602.70" x2="117.00" y2="631.20" stroke="#777" stroke-width="0.8" />
<line x1="114.70" y1="602.70" x2="119.30" y2="602.70" stroke="#777" stroke-width="0.8" />
<line x1="114.70" y1="631.20" x2="119.30" y2="631.20" stroke="#777" stroke-width="0.8" />
<line x1="135.60" y1="600.40" x2="135.60" y2="619.80" stroke="#777" stroke-width="0.8" />
<line x1="133.30" y1="600.40" x2="137.90" y2="600.40" stroke="#777" stroke-width="0.8" />
<line x1="133.30" y1="619.80" x2="137.90" y2="619.80" stroke="#777" stroke-width="0.8" />
<line x1="135.60" y1="623.20" x2="135.60" y2="623.20" stroke="#777" stroke-width="0.8" />
<line x1="133.30" y1="623.20" x2="137.90" y2="623.20" stroke="#777" stroke-width="0.8" />
<line x1="154.30" y1="602.50" x2="154.30" y2="617.00" stroke="#777" stroke-width="0.8" />
<line x1="152.00" y1="602.50" x2="156.60" y2="602.50" stroke="#777" stroke-width="0.8" />
<line x1="152.00" y1="617.00" x2="156.60" y2="617.00" stroke="#777" stroke-width="0.8" />
<line x1="172.60" y1="603.60" x2="172.60" y2="619.80" stroke="#777" stroke-width="0.8" />
<line x1="170.30" y1="603.60" x2="174.90" y2="603.60" stroke="#777" stroke-width="0.8" />
<line x1="170.30" y1="619.80" x2="174.90" y2="619.80" stroke="#777" stroke-width="0.8" />
<line x1="191.40" y1="603.20" x2="191.40" y2="619.80" stroke="#777" stroke-width="0.8" />
<line x1="189.10" y1="603.20" x2="193.70" y2="603.20" stroke="#777" stroke-width="0.8" />
<line x1="189.10" y1="619.80" x2="193.70" y2="619.80" stroke="#777" stroke-width="0.8" />
<rect x="96.00" y="626.80" width="4.4" height="4.8" fill="#ecd040" stroke="#3a3008" stroke-width="0.8"/>
<circle cx="98.20" cy="620.80" r="2.3" fill="#4f9a4f" stroke="#1a3a1a" stroke-width="0.8"/>
<path d="M98.20,608.40 L101.00,611.20 L98.20,614.00 L95.40,611.20 Z" fill="#1f3c62" stroke="#0c1a2e" stroke-width="0.8"/>
<rect x="114.80" y="624.90" width="4.4" height="4.8" fill="#3a3a22" stroke="#111" stroke-width="0.8"/>
<rect x="114.80" y="622.20" width="4.4" height="4.8" fill="#ecd040" stroke="#3a3008" stroke-width="0.8"/>
<circle cx="117.00" cy="616.20" r="2.3" fill="#4f9a4f" stroke="#1a3a1a" stroke-width="0.8"/>
<circle cx="117.00" cy="611.20" r="2.3" fill="#1f3c62" stroke="#0c1a2e" stroke-width="0.8"/>
<circle cx="135.60" cy="632.20" r="2.3" fill="#8585bd" stroke="#35355a" stroke-width="0.8"/>
<circle cx="135.60" cy="627.70" r="2.3" fill="#ecd040" stroke="#3a3008" stroke-width="0.8"/>
<circle cx="135.60" cy="611.20" r="2.3" fill="#4f9a4f" stroke="#1a3a1a" stroke-width="0.8"/>
<rect x="152.10" y="624.30" width="4.4" height="4.8" fill="#3a3a22" stroke="#111" stroke-width="0.8"/>
<rect x="152.10" y="627.80" width="4.4" height="4.8" fill="#ecd040" stroke="#3a3008" stroke-width="0.8"/>
<circle cx="154.30" cy="609.80" r="2.3" fill="#1f3c62" stroke="#0c1a2e" stroke-width="0.8"/>
<circle cx="172.60" cy="629.90" r="2.3" fill="#ecd040" stroke="#3a3008" stroke-width="0.8"/>
<circle cx="172.60" cy="624.90" r="2.3" fill="#8585bd" stroke="#35355a" stroke-width="0.8"/>
<circle cx="172.60" cy="615.60" r="2.3" fill="#4f9a4f" stroke="#1a3a1a" stroke-width="0.8"/>
<circle cx="172.60" cy="612.90" r="2.3" fill="#1f3c62" stroke="#0c1a2e" stroke-width="0.8"/>
<circle cx="191.40" cy="628.80" r="2.3" fill="#8585bd" stroke="#35355a" stroke-width="0.8"/>
<circle cx="191.40" cy="631.60" r="2.3" fill="#ecd040" stroke="#3a3008" stroke-width="0.8"/>
<circle cx="191.40" cy="624.60" r="2.3" fill="#4f9a4f" stroke="#1a3a1a" stroke-width="0.8"/>
<path d="M191.40,608.40 L194.20,611.20 L191.40,614.00 L188.60,611.20 Z" fill="#1f3c62" stroke="#0c1a2e" stroke-width="0.8"/>
<line x1="87.65" y1="635.90" x2="201.00" y2="635.90" stroke="#1a1a1a" stroke-width="1.15" />
<circle cx="98.20" cy="600.00" r="1.3" fill="#111"/>
<text x="135.60" y="598.50" font-size="6.8" text-anchor="middle" fill="#505050" letter-spacing="0.4" stroke="#505050" stroke-width="0.15">##</text>
<text x="154.30" y="598.50" font-size="6.8" text-anchor="middle" fill="#505050" letter-spacing="0.4" stroke="#505050" stroke-width="0.15">#</text>
<circle cx="191.40" cy="596.90" r="1.3" fill="#111"/>
<text x="145.00" y="555.20" font-size="8.6" text-anchor="middle"><tspan font-style="italic">Nbea</tspan><tspan font-size="6" dy="-3.6">+/+</tspan><tspan dy="3.6"> HSPCs</tspan></text>
<circle cx="212.00" cy="586.20" r="1.9" fill="#1f3c62" stroke="#0c1a2e" stroke-width="0.9"/>
<text x="216.90" y="588.50" font-size="6.6" textLength="39.4" lengthAdjust="spacingAndGlyphs">Control-shRNA</text>
<circle cx="212.00" cy="596.90" r="1.9" fill="#4f9a4f" stroke="#1a3a1a" stroke-width="0.9"/>
<text x="216.90" y="599.20" font-size="6.6" font-style="italic" textLength="32.6" lengthAdjust="spacingAndGlyphs">Lrba-shRNA</text>
<circle cx="212.00" cy="607.20" r="1.9" fill="#8585bd" stroke="#35355a" stroke-width="0.9"/>
<text x="216.90" y="609.50" font-size="6.6" font-style="italic" textLength="31.0" lengthAdjust="spacingAndGlyphs">Lyst-shRNA</text>
<circle cx="212.00" cy="617.70" r="1.9" fill="#ecd040" stroke="#3a3008" stroke-width="0.9"/>
<text x="216.90" y="620.00" font-size="6.6" font-style="italic" textLength="39.6" lengthAdjust="spacingAndGlyphs">Nbeal1-shRNA</text>
<line x1="315.40" y1="559.80" x2="315.40" y2="636.40" stroke="#1a1a1a" stroke-width="1.15" />
<line x1="312.80" y1="636.00" x2="315.40" y2="636.00" stroke="#1a1a1a" stroke-width="0.7" />
<text x="310.40" y="638.20" font-size="6.3" text-anchor="end" fill="#3a3a3a">0</text>
<line x1="312.80" y1="611.15" x2="315.40" y2="611.15" stroke="#1a1a1a" stroke-width="0.7" />
<text x="310.40" y="613.35" font-size="6.3" text-anchor="end" fill="#3a3a3a">1</text>
<line x1="312.80" y1="586.30" x2="315.40" y2="586.30" stroke="#1a1a1a" stroke-width="0.7" />
<text x="310.40" y="588.50" font-size="6.3" text-anchor="end" fill="#3a3a3a">2</text>
<line x1="312.80" y1="561.45" x2="315.40" y2="561.45" stroke="#1a1a1a" stroke-width="0.7" />
<text x="310.40" y="563.65" font-size="6.3" text-anchor="end" fill="#3a3a3a">3</text>
<line x1="313.90" y1="623.58" x2="315.40" y2="623.58" stroke="#1a1a1a" stroke-width="0.5" />
<line x1="313.90" y1="598.73" x2="315.40" y2="598.73" stroke="#1a1a1a" stroke-width="0.5" />
<line x1="313.90" y1="573.88" x2="315.40" y2="573.88" stroke="#1a1a1a" stroke-width="0.5" />
<line x1="315.40" y1="611.15" x2="428.40" y2="611.15" stroke="#000" stroke-width="1.05" stroke-dasharray="1.7,1.5"/>
<line x1="324.70" y1="636.00" x2="324.70" y2="638.40" stroke="#1a1a1a" stroke-width="0.7" />
<text x="328.30" y="644.80" font-size="6.6" text-anchor="end" fill="#3a3a3a" transform="rotate(-45 328.30 644.80)">HSC</text>
<line x1="343.40" y1="636.00" x2="343.40" y2="638.40" stroke="#1a1a1a" stroke-width="0.7" />
<text x="347.00" y="644.80" font-size="6.6" text-anchor="end" fill="#3a3a3a" transform="rotate(-45 347.00 644.80)">MPP</text>
<line x1="362.20" y1="636.00" x2="362.20" y2="638.40" stroke="#1a1a1a" stroke-width="0.7" />
<text x="365.80" y="644.80" font-size="6.6" text-anchor="end" fill="#3a3a3a" transform="rotate(-45 365.80 644.80)">CMP</text>
<line x1="380.60" y1="636.00" x2="380.60" y2="638.40" stroke="#1a1a1a" stroke-width="0.7" />
<text x="384.20" y="644.80" font-size="6.6" text-anchor="end" fill="#3a3a3a" transform="rotate(-45 384.20 644.80)">GMP</text>
<line x1="399.00" y1="636.00" x2="399.00" y2="638.40" stroke="#1a1a1a" stroke-width="0.7" />
<text x="402.60" y="644.80" font-size="6.6" text-anchor="end" fill="#3a3a3a" transform="rotate(-45 402.60 644.80)">MEP</text>
<line x1="417.80" y1="636.00" x2="417.80" y2="638.40" stroke="#1a1a1a" stroke-width="0.7" />
<text x="421.40" y="644.80" font-size="6.6" text-anchor="end" fill="#3a3a3a" transform="rotate(-45 421.40 644.80)">CLP</text>
<line x1="324.70" y1="616.80" x2="324.70" y2="636.00" stroke="#777" stroke-width="0.8" />
<line x1="322.40" y1="616.80" x2="327.00" y2="616.80" stroke="#777" stroke-width="0.8" />
<line x1="343.40" y1="566.30" x2="343.40" y2="629.50" stroke="#777" stroke-width="0.8" />
<line x1="341.10" y1="566.30" x2="345.70" y2="566.30" stroke="#777" stroke-width="0.8" />
<line x1="341.10" y1="629.50" x2="345.70" y2="629.50" stroke="#777" stroke-width="0.8" />
<line x1="343.40" y1="571.50" x2="343.40" y2="571.50" stroke="#777" stroke-width="0.8" />
<line x1="341.10" y1="571.50" x2="345.70" y2="571.50" stroke="#777" stroke-width="0.8" />
<line x1="343.40" y1="606.60" x2="343.40" y2="606.60" stroke="#777" stroke-width="0.8" />
<line x1="341.10" y1="606.60" x2="345.70" y2="606.60" stroke="#777" stroke-width="0.8" />
<line x1="343.40" y1="609.00" x2="343.40" y2="609.00" stroke="#777" stroke-width="0.8" />
<line x1="341.10" y1="609.00" x2="345.70" y2="609.00" stroke="#777" stroke-width="0.8" />
<line x1="362.20" y1="598.70" x2="362.20" y2="636.00" stroke="#777" stroke-width="0.8" />
<line x1="359.90" y1="598.70" x2="364.50" y2="598.70" stroke="#777" stroke-width="0.8" />
<line x1="362.20" y1="615.00" x2="362.20" y2="615.00" stroke="#777" stroke-width="0.8" />
<line x1="359.90" y1="615.00" x2="364.50" y2="615.00" stroke="#777" stroke-width="0.8" />
<line x1="380.60" y1="587.60" x2="380.60" y2="636.00" stroke="#777" stroke-width="0.8" />
<line x1="378.30" y1="587.60" x2="382.90" y2="587.60" stroke="#777" stroke-width="0.8" />
<line x1="380.60" y1="618.00" x2="380.60" y2="618.00" stroke="#777" stroke-width="0.8" />
<line x1="378.30" y1="618.00" x2="382.90" y2="618.00" stroke="#777" stroke-width="0.8" />
<line x1="399.00" y1="614.70" x2="399.00" y2="636.00" stroke="#777" stroke-width="0.8" />
<line x1="396.70" y1="614.70" x2="401.30" y2="614.70" stroke="#777" stroke-width="0.8" />
<line x1="417.80" y1="610.80" x2="417.80" y2="636.00" stroke="#777" stroke-width="0.8" />
<line x1="415.50" y1="610.80" x2="420.10" y2="610.80" stroke="#777" stroke-width="0.8" />
<path d="M324.70,633.90 L327.20,636.40 L324.70,638.90 L322.20,636.40 Z" fill="#ecd040" stroke="#3a3008" stroke-width="0.8"/>
<circle cx="324.70" cy="632.00" r="2.3" fill="#a9a9d9" stroke="#5f5f98" stroke-width="0.8"/>
<circle cx="324.70" cy="627.50" r="2.3" fill="#4f9a4f" stroke="#1a3a1a" stroke-width="0.8"/>
<circle cx="324.70" cy="623.80" r="2.3" fill="#1f3c62" stroke="#0c1a2e" stroke-width="0.8"/>
<circle cx="343.40" cy="621.00" r="2.3" fill="#4f9a4f" stroke="#1a3a1a" stroke-width="0.8"/>
<path d="M343.40,616.10 L345.90,618.60 L343.40,621.10 L340.90,618.60 Z" fill="#ecd040" stroke="#3a3008" stroke-width="0.8"/>
<circle cx="343.40" cy="600.50" r="2.3" fill="#a9a9d9" stroke="#5f5f98" stroke-width="0.8"/>
<circle cx="343.40" cy="587.80" r="2.3" fill="#1f3c62" stroke="#0c1a2e" stroke-width="0.8"/>
<path d="M362.20,633.70 L364.70,636.20 L362.20,638.70 L359.70,636.20 Z" fill="#ecd040" stroke="#3a3008" stroke-width="0.8"/>
<circle cx="362.20" cy="632.30" r="2.3" fill="#4f9a4f" stroke="#1a3a1a" stroke-width="0.8"/>
<circle cx="362.20" cy="622.90" r="2.3" fill="#a9a9d9" stroke="#5f5f98" stroke-width="0.8"/>
<circle cx="362.20" cy="609.00" r="2.3" fill="#1f3c62" stroke="#0c1a2e" stroke-width="0.8"/>
<path d="M380.60,633.40 L383.10,635.90 L380.60,638.40 L378.10,635.90 Z" fill="#ecd040" stroke="#3a3008" stroke-width="0.8"/>
<circle cx="380.60" cy="633.80" r="2.3" fill="#4f9a4f" stroke="#1a3a1a" stroke-width="0.8"/>
<circle cx="380.60" cy="625.00" r="2.3" fill="#a9a9d9" stroke="#5f5f98" stroke-width="0.8"/>
<circle cx="380.60" cy="602.30" r="2.3" fill="#1f3c62" stroke="#0c1a2e" stroke-width="0.8"/>
<rect x="396.80" y="632.00" width="4.4" height="4.8" fill="#ecd040" stroke="#3a3008" stroke-width="0.8"/>
<circle cx="399.00" cy="630.40" r="2.3" fill="#4f9a4f" stroke="#1a3a1a" stroke-width="0.8"/>
<circle cx="399.00" cy="625.30" r="2.3" fill="#a9a9d9" stroke="#5f5f98" stroke-width="0.8"/>
<circle cx="399.00" cy="620.50" r="2.3" fill="#1f3c62" stroke="#0c1a2e" stroke-width="0.8"/>
<rect x="415.60" y="630.80" width="4.4" height="4.8" fill="#e08a3a" stroke="#7a3a10" stroke-width="0.8"/>
<circle cx="417.80" cy="621.90" r="2.3" fill="#4f9a4f" stroke="#1a3a1a" stroke-width="0.8"/>
<line x1="314.85" y1="636.00" x2="426.90" y2="636.00" stroke="#1a1a1a" stroke-width="1.15" />
<text x="324.70" y="584.90" font-size="6.0" text-anchor="middle" fill="#444">*</text>
<text x="324.70" y="590.30" font-size="6.8" text-anchor="middle" fill="#505050" letter-spacing="0.4" stroke="#505050" stroke-width="0.15">##</text>
<circle cx="322.70" cy="593.90" r="1.3" fill="#111"/>
<circle cx="326.70" cy="593.90" r="1.3" fill="#111"/>
<text x="362.20" y="581.00" font-size="6.0" text-anchor="middle" fill="#444">*</text>
<circle cx="360.20" cy="586.00" r="1.3" fill="#111"/>
<circle cx="364.20" cy="586.00" r="1.3" fill="#111"/>
<text x="380.60" y="576.20" font-size="6.0" text-anchor="middle" fill="#444">*</text>
<circle cx="378.60" cy="580.80" r="1.3" fill="#111"/>
<circle cx="382.60" cy="580.80" r="1.3" fill="#111"/>
<text x="417.80" y="590.70" font-size="6.8" text-anchor="middle" fill="#505050" letter-spacing="0.4" stroke="#505050" stroke-width="0.15">#</text>
<circle cx="417.80" cy="594.50" r="1.3" fill="#111"/>
<text x="370.60" y="555.20" font-size="8.6" text-anchor="middle"><tspan font-style="italic">Nbea</tspan><tspan font-size="6" dy="-3.6">−/−</tspan><tspan dy="3.6"> HSPCs</tspan></text>
<circle cx="438.10" cy="586.20" r="1.9" fill="#1f3c62" stroke="#0c1a2e" stroke-width="0.9"/>
<text x="442.80" y="588.50" font-size="6.6" textLength="39.6" lengthAdjust="spacingAndGlyphs">Control-shRNA</text>
<circle cx="438.10" cy="596.90" r="1.9" fill="#4f9a4f" stroke="#1a3a1a" stroke-width="0.9"/>
<text x="442.80" y="599.20" font-size="6.6" font-style="italic" textLength="32.6" lengthAdjust="spacingAndGlyphs">Lrba-shRNA</text>
<circle cx="438.10" cy="607.20" r="1.9" fill="#8585bd" stroke="#35355a" stroke-width="0.9"/>
<text x="442.80" y="609.50" font-size="6.6" font-style="italic" textLength="31.0" lengthAdjust="spacingAndGlyphs">Lyst-shRNA</text>
<circle cx="438.10" cy="617.70" r="1.9" fill="#ecd040" stroke="#3a3008" stroke-width="0.9"/>
<text x="442.80" y="620.00" font-size="6.6" font-style="italic" textLength="39.6" lengthAdjust="spacingAndGlyphs">Nbeal1-shRNA</text>
<text x="54.60" y="598.30" font-size="6.8" text-anchor="middle" transform="rotate(-90 54.60 598.30)" textLength="65" lengthAdjust="spacingAndGlyphs" stroke="#2a2a2a" stroke-width="0.32">CD45.2+mCherry+ cells%</text>
<text x="65.60" y="598.30" font-size="6.8" text-anchor="middle" transform="rotate(-90 65.60 598.30)" textLength="55" lengthAdjust="spacingAndGlyphs" stroke="#2a2a2a" stroke-width="0.32">normalized to <tspan font-style="italic">Nbea</tspan><tspan font-size="4.4" dy="-2.6">+/+</tspan></text>
<text x="75.50" y="598.30" font-size="6.8" text-anchor="middle" transform="rotate(-90 75.50 598.30)" textLength="39" lengthAdjust="spacingAndGlyphs" stroke="#2a2a2a" stroke-width="0.32">control-shRNA</text>
<text x="281.40" y="598.30" font-size="6.8" text-anchor="middle" transform="rotate(-90 281.40 598.30)" textLength="65" lengthAdjust="spacingAndGlyphs" stroke="#2a2a2a" stroke-width="0.32">CD45.2+mCherry+ cells%</text>
<text x="292.00" y="598.30" font-size="6.8" text-anchor="middle" transform="rotate(-90 292.00 598.30)" textLength="55" lengthAdjust="spacingAndGlyphs" stroke="#2a2a2a" stroke-width="0.32">normalized to <tspan font-style="italic">Nbea</tspan><tspan font-size="4.4" dy="-2.6">+/+</tspan></text>
<text x="301.50" y="598.30" font-size="6.8" text-anchor="middle" transform="rotate(-90 301.50 598.30)" textLength="39" lengthAdjust="spacingAndGlyphs" stroke="#2a2a2a" stroke-width="0.32">control-shRNA</text>
</g>
<rect x="0.5" y="0.5" width="519" height="661" fill="none" stroke="#737373" stroke-width="1"/>
</svg>
</body></html>
